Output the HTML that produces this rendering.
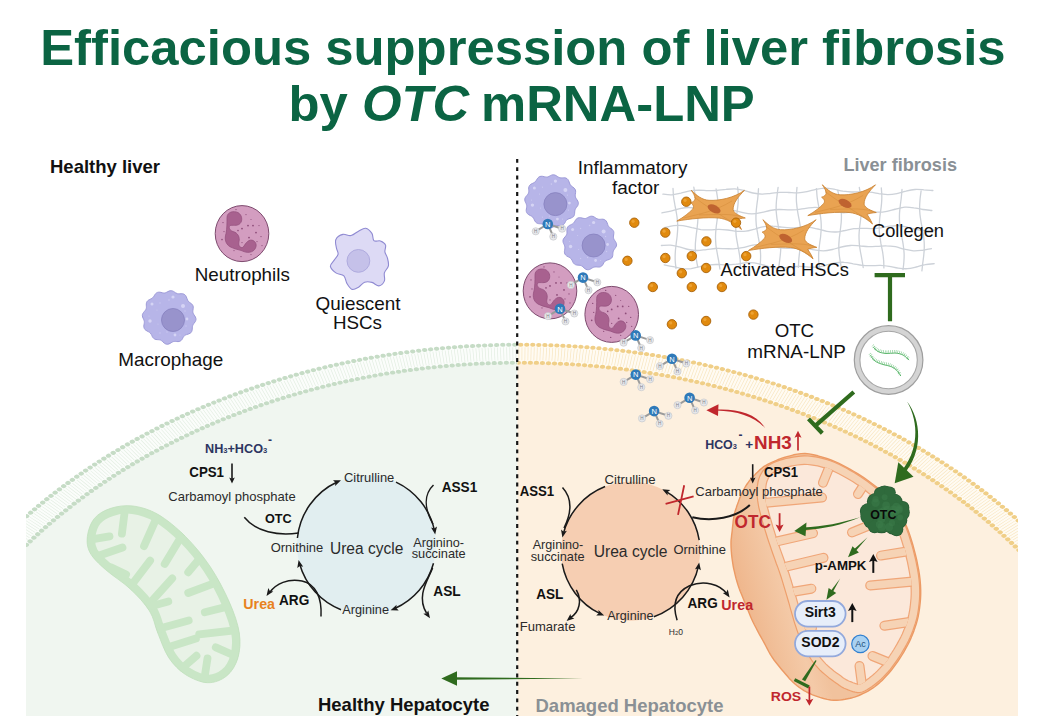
<!DOCTYPE html>
<html><head><meta charset="utf-8"><title>OTC mRNA-LNP</title>
<style>html,body{margin:0;padding:0;background:#fff}svg{display:block}</style></head>
<body>
<svg width="1051" height="724" viewBox="0 0 1051 724" font-family='"Liberation Sans", Arial, Helvetica, sans-serif'>
<defs>
<clipPath id="cl"><rect x="26" y="0" width="491.5" height="716"/></clipPath>
<clipPath id="cr"><rect x="517.5" y="0" width="500.5" height="716"/></clipPath>
<clipPath id="call"><rect x="26" y="0" width="992" height="716"/></clipPath>
</defs>
<rect width="1051" height="724" fill="#fff"/>
<text x="40.2" y="64.7" font-size="50.8" fill="#0b6443" font-weight="bold" text-anchor="start" textLength="965.4" lengthAdjust="spacingAndGlyphs">Efficacious suppression of liver fibrosis</text>
<text x="288.5" y="120.6" font-size="50.8" fill="#0b6443" font-weight="bold" text-anchor="start">by</text>
<text x="362.0" y="120.6" font-size="50.8" fill="#0b6443" font-weight="bold" text-anchor="start" font-style="italic">OTC</text>
<text x="481.0" y="120.6" font-size="50.8" fill="#0b6443" font-weight="bold" text-anchor="start">mRNA-LNP</text>
<g clip-path="url(#cl)"><g transform="translate(520.0,836.2) scale(1.3225,1)">
<circle r="491.5" fill="#fbfdfb"/>
<circle r="473.5" fill="#f0f6f0"/>
<circle r="482.5" fill="none" stroke="#e3eee2" stroke-width="13" stroke-dasharray="0.55 1.75"/>
<circle r="491.5" fill="none" stroke="#c6dcc6" stroke-width="4" stroke-linecap="round" stroke-dasharray="0.01 4.55"/>
<circle r="473.5" fill="none" stroke="#c6dcc6" stroke-width="4" stroke-linecap="round" stroke-dasharray="0.01 4.55"/>
</g></g>
<g clip-path="url(#cr)"><g transform="translate(520.0,836.2) scale(1.3225,1)">
<circle r="491.5" fill="#fffbf3"/>
<circle r="473.5" fill="#fdf0df"/>
<circle r="482.5" fill="none" stroke="#f8e6c0" stroke-width="13" stroke-dasharray="0.55 1.75"/>
<circle r="491.5" fill="none" stroke="#f0cf88" stroke-width="4" stroke-linecap="round" stroke-dasharray="0.01 4.55"/>
<circle r="473.5" fill="none" stroke="#f0cf88" stroke-width="4" stroke-linecap="round" stroke-dasharray="0.01 4.55"/>
</g></g>
<line x1="517.2" y1="158.9" x2="517.2" y2="716" stroke="#161616" stroke-width="2.2" stroke-dasharray="3.9 4.4"/>
<g fill="none" stroke="#cbd0d7" stroke-width="1.3" stroke-linecap="round" opacity="0.95">
<path d="M662.9,194.1 C664.4,194.3 668.9,195.0 671.9,194.8 C674.9,194.7 677.9,193.8 680.9,193.2 C683.9,192.5 686.9,191.5 689.9,190.9 C692.9,190.4 695.9,190.2 698.9,190.1 C701.9,190.1 704.9,190.5 707.9,190.6 C710.9,190.7 713.9,190.7 716.9,190.5 C719.9,190.3 722.9,189.6 725.9,189.4 C728.9,189.1 731.9,188.7 734.9,188.8 C737.9,189.0 740.9,189.7 743.9,190.4 C746.9,191.1 749.9,192.4 752.9,193.0 C755.9,193.6 758.9,194.1 761.9,194.2 C764.9,194.3 767.9,193.7 770.9,193.4 C773.9,193.1 776.9,192.6 779.9,192.4 C782.9,192.2 785.9,192.4 788.9,192.5 C791.9,192.6 794.9,193.0 797.9,192.8 C800.9,192.7 803.9,192.3 806.9,191.7 C809.9,191.2 812.9,190.0 815.9,189.4 C818.9,188.8 821.9,188.2 824.9,188.1 C827.9,188.1 830.9,188.6 833.9,189.1 C836.9,189.7 839.9,190.7 842.9,191.2 C845.9,191.6 848.9,191.9 851.9,192.0 C854.9,192.1 857.9,191.8 860.9,191.8 C863.9,191.8 866.9,191.8 869.9,192.1 C872.9,192.4 875.9,193.1 878.9,193.6 C881.9,194.0 884.9,194.6 887.9,194.6 C890.9,194.6 893.9,194.2 896.9,193.6 C899.9,193.0 902.9,191.7 905.9,191.1 C908.9,190.4 911.9,189.7 914.9,189.5 C917.9,189.3 920.9,189.6 923.9,189.8 C926.9,189.9 931.4,190.4 932.9,190.5"/>
<path d="M661.9,212.8 C663.4,212.5 667.9,211.9 670.9,211.2 C673.9,210.5 676.9,209.2 679.9,208.6 C682.9,208.0 685.9,207.5 688.9,207.5 C691.9,207.5 694.9,208.0 697.9,208.4 C700.9,208.8 703.9,209.4 706.9,209.6 C709.9,209.8 712.9,209.7 715.9,209.7 C718.9,209.6 721.9,209.3 724.9,209.4 C727.9,209.5 730.9,209.9 733.9,210.4 C736.9,211.0 739.9,212.1 742.9,212.6 C745.9,213.2 748.9,213.8 751.9,213.8 C754.9,213.8 757.9,213.2 760.9,212.6 C763.9,212.1 766.9,211.0 769.9,210.5 C772.9,210.0 775.9,209.6 778.9,209.5 C781.9,209.4 784.9,209.8 787.9,209.8 C790.9,209.9 793.9,209.9 796.9,209.7 C799.9,209.4 802.9,208.7 805.9,208.3 C808.9,208.0 811.9,207.4 814.9,207.4 C817.9,207.4 820.9,208.0 823.9,208.6 C826.9,209.2 829.9,210.5 832.9,211.1 C835.9,211.8 838.9,212.5 841.9,212.7 C844.9,212.9 847.9,212.5 850.9,212.3 C853.9,212.1 856.9,211.5 859.9,211.4 C862.9,211.3 865.9,211.5 868.9,211.6 C871.9,211.8 874.9,212.3 877.9,212.2 C880.9,212.2 883.9,211.9 886.9,211.3 C889.9,210.8 892.9,209.6 895.9,209.0 C898.9,208.3 901.9,207.4 904.9,207.2 C907.9,207.0 910.9,207.4 913.9,207.8 C916.9,208.1 919.9,209.1 922.9,209.5 C925.9,210.0 930.4,210.3 931.9,210.5"/>
<path d="M664.9,227.5 C666.4,227.2 670.9,225.9 673.9,225.6 C676.9,225.3 679.9,225.3 682.9,225.6 C685.9,226.0 688.9,227.0 691.9,227.7 C694.9,228.3 697.9,229.2 700.9,229.6 C703.9,229.9 706.9,229.8 709.9,229.8 C712.9,229.8 715.9,229.4 718.9,229.4 C721.9,229.4 724.9,229.7 727.9,230.0 C730.9,230.3 733.9,231.1 736.9,231.3 C739.9,231.5 742.9,231.6 745.9,231.2 C748.9,230.8 751.9,229.8 754.9,229.1 C757.9,228.3 760.9,227.2 763.9,226.7 C766.9,226.2 769.9,226.1 772.9,226.2 C775.9,226.2 778.9,226.9 781.9,227.2 C784.9,227.5 787.9,227.8 790.9,227.8 C793.9,227.9 796.9,227.5 799.9,227.4 C802.9,227.3 805.9,227.1 808.9,227.4 C811.9,227.6 814.9,228.4 817.9,229.0 C820.9,229.7 823.9,230.9 826.9,231.3 C829.9,231.8 832.9,232.1 835.9,232.0 C838.9,231.8 841.9,231.0 844.9,230.5 C847.9,229.9 850.9,229.1 853.9,228.7 C856.9,228.4 859.9,228.4 862.9,228.3 C865.9,228.3 868.9,228.7 871.9,228.6 C874.9,228.5 877.9,228.2 880.9,227.8 C883.9,227.4 886.9,226.5 889.9,226.1 C892.9,225.7 895.9,225.4 898.9,225.6 C901.9,225.8 904.9,226.6 907.9,227.3 C910.9,228.0 913.9,229.1 916.9,229.7 C919.9,230.3 922.9,230.6 925.9,230.7 C928.9,230.7 933.4,230.2 934.9,230.1"/>
<path d="M661.4,245.5 C662.9,245.5 667.4,245.0 670.4,245.2 C673.4,245.4 676.4,246.2 679.4,246.9 C682.4,247.6 685.4,248.9 688.4,249.5 C691.4,250.1 694.4,250.5 697.4,250.5 C700.4,250.5 703.4,249.9 706.4,249.6 C709.4,249.3 712.4,248.7 715.4,248.5 C718.4,248.3 721.4,248.5 724.4,248.6 C727.4,248.6 730.4,249.0 733.4,248.9 C736.4,248.7 739.4,248.3 742.4,247.7 C745.4,247.1 748.4,246.0 751.4,245.4 C754.4,244.9 757.4,244.3 760.4,244.3 C763.4,244.3 766.4,245.0 769.4,245.5 C772.4,246.1 775.4,247.1 778.4,247.6 C781.4,248.1 784.4,248.3 787.4,248.4 C790.4,248.5 793.4,248.1 796.4,248.1 C799.4,248.1 802.4,248.1 805.4,248.4 C808.4,248.7 811.4,249.5 814.4,249.9 C817.4,250.3 820.4,250.8 823.4,250.8 C826.4,250.7 829.4,250.1 832.4,249.5 C835.4,248.9 838.4,247.6 841.4,247.0 C844.4,246.3 847.4,245.7 850.4,245.5 C853.4,245.3 856.4,245.7 859.4,245.9 C862.4,246.1 865.4,246.6 868.4,246.7 C871.4,246.8 874.4,246.5 877.4,246.3 C880.4,246.2 883.4,245.7 886.4,245.8 C889.4,245.8 892.4,246.2 895.4,246.7 C898.4,247.3 901.4,248.5 904.4,249.2 C907.4,249.8 910.4,250.7 913.4,250.8 C916.4,251.0 919.4,250.6 922.4,250.3 C925.4,249.9 929.9,248.8 931.4,248.6"/>
<path d="M664.2,264.9 C665.7,265.2 670.2,266.1 673.2,266.7 C676.2,267.3 679.2,268.3 682.2,268.6 C685.2,268.9 688.2,268.9 691.2,268.6 C694.2,268.2 697.2,267.2 700.2,266.6 C703.2,265.9 706.2,265.1 709.2,264.8 C712.2,264.4 715.2,264.5 718.2,264.5 C721.2,264.6 724.2,265.0 727.2,264.9 C730.2,264.8 733.2,264.5 736.2,264.2 C739.2,263.8 742.2,263.1 745.2,262.8 C748.2,262.6 751.2,262.5 754.2,262.9 C757.2,263.3 760.2,264.3 763.2,265.0 C766.2,265.8 769.2,266.9 772.2,267.4 C775.2,267.9 778.2,268.0 781.2,267.9 C784.2,267.8 787.2,267.2 790.2,266.9 C793.2,266.7 796.2,266.4 799.2,266.4 C802.2,266.4 805.2,266.9 808.2,267.0 C811.2,267.0 814.2,267.3 817.2,267.0 C820.2,266.7 823.2,265.9 826.2,265.2 C829.2,264.5 832.2,263.4 835.2,262.9 C838.2,262.4 841.2,262.1 844.2,262.3 C847.2,262.4 850.2,263.2 853.2,263.8 C856.2,264.3 859.2,265.1 862.2,265.4 C865.2,265.7 868.2,265.7 871.2,265.7 C874.2,265.7 877.2,265.3 880.2,265.4 C883.2,265.6 886.2,265.9 889.2,266.3 C892.2,266.8 895.2,267.7 898.2,268.1 C901.2,268.5 904.2,268.9 907.2,268.7 C910.2,268.5 913.2,267.7 916.2,267.0 C919.2,266.3 922.2,265.1 925.2,264.6 C928.2,264.0 932.7,263.8 934.2,263.7"/>
<path d="M673.0,188.5 C673.1,189.8 673.3,193.8 673.5,196.5 C673.8,199.1 674.4,201.8 674.8,204.5 C675.3,207.1 675.9,209.8 676.3,212.5 C676.8,215.1 677.2,217.8 677.4,220.5 C677.7,223.1 677.8,225.8 677.7,228.5 C677.6,231.1 677.4,233.8 677.1,236.5 C676.8,239.1 676.4,241.8 676.1,244.5 C675.8,247.1 675.4,249.8 675.3,252.5 C675.1,255.1 675.1,257.8 675.2,260.5 C675.3,263.1 675.9,267.1 676.0,268.5"/>
<path d="M693.8,187.2 C694.1,188.6 694.7,192.6 695.2,195.2 C695.6,197.9 696.2,200.6 696.7,203.2 C697.1,205.9 697.5,208.6 697.7,211.2 C697.9,213.9 698.0,216.6 697.9,219.2 C697.8,221.9 697.5,224.6 697.2,227.2 C697.0,229.9 696.5,232.6 696.2,235.2 C695.9,237.9 695.6,240.6 695.4,243.2 C695.3,245.9 695.3,248.6 695.4,251.2 C695.6,253.9 695.9,256.6 696.3,259.2 C696.7,261.9 697.5,265.9 697.8,267.2"/>
<path d="M716.1,189.0 C716.3,190.4 717.1,194.4 717.4,197.0 C717.8,199.7 718.0,202.4 718.1,205.0 C718.2,207.7 718.1,210.4 717.9,213.0 C717.7,215.7 717.3,218.4 717.0,221.0 C716.6,223.7 716.2,226.4 716.0,229.0 C715.7,231.7 715.5,234.4 715.5,237.0 C715.5,239.7 715.7,242.4 715.9,245.0 C716.2,247.7 716.7,250.4 717.2,253.0 C717.6,255.7 718.2,258.4 718.7,261.0 C719.1,263.7 719.7,267.7 719.9,269.0"/>
<path d="M737.6,187.1 C737.8,188.5 738.2,192.5 738.3,195.1 C738.4,197.8 738.3,200.5 738.1,203.1 C737.9,205.8 737.5,208.5 737.2,211.1 C736.8,213.8 736.4,216.5 736.2,219.1 C735.9,221.8 735.7,224.5 735.7,227.1 C735.7,229.8 735.9,232.5 736.1,235.1 C736.4,237.8 736.9,240.5 737.4,243.1 C737.8,245.8 738.4,248.5 738.9,251.1 C739.3,253.8 739.8,256.5 740.1,259.1 C740.3,261.8 740.3,265.8 740.4,267.1"/>
<path d="M758.5,188.7 C758.4,190.1 758.2,194.1 757.9,196.7 C757.7,199.4 757.2,202.1 756.9,204.7 C756.6,207.4 756.2,210.1 756.1,212.7 C755.9,215.4 755.9,218.1 756.0,220.7 C756.1,223.4 756.4,226.1 756.8,228.7 C757.2,231.4 757.8,234.1 758.2,236.7 C758.7,239.4 759.3,242.1 759.7,244.7 C760.1,247.4 760.4,250.1 760.5,252.7 C760.7,255.4 760.6,258.1 760.5,260.7 C760.3,263.4 759.8,267.4 759.7,268.7"/>
<path d="M778.1,187.3 C777.9,188.6 777.4,192.6 777.1,195.3 C776.7,197.9 776.4,200.6 776.3,203.3 C776.1,205.9 776.1,208.6 776.2,211.3 C776.4,213.9 776.7,216.6 777.1,219.3 C777.5,221.9 778.1,224.6 778.5,227.3 C779.0,229.9 779.6,232.6 780.0,235.3 C780.3,237.9 780.6,240.6 780.8,243.3 C780.9,245.9 780.8,248.6 780.6,251.3 C780.5,253.9 780.1,256.6 779.8,259.3 C779.5,261.9 778.9,265.9 778.8,267.3"/>
<path d="M797.0,187.4 C796.9,188.7 796.4,192.7 796.4,195.4 C796.3,198.0 796.3,200.7 796.6,203.4 C796.8,206.0 797.2,208.7 797.6,211.4 C798.0,214.0 798.6,216.7 799.1,219.4 C799.6,222.0 800.1,224.7 800.4,227.4 C800.7,230.0 801.0,232.7 801.0,235.4 C801.1,238.0 800.9,240.7 800.7,243.4 C800.5,246.0 800.1,248.7 799.7,251.4 C799.4,254.0 799.0,256.7 798.8,259.4 C798.6,262.0 798.5,266.0 798.4,267.4"/>
<path d="M816.5,188.7 C816.6,190.0 816.8,194.0 817.1,196.7 C817.4,199.4 817.9,202.0 818.4,204.7 C818.9,207.4 819.5,210.0 819.9,212.7 C820.3,215.4 820.8,218.0 821.0,220.7 C821.2,223.4 821.3,226.0 821.2,228.7 C821.1,231.4 820.8,234.0 820.6,236.7 C820.3,239.4 819.8,242.0 819.5,244.7 C819.2,247.4 818.9,250.0 818.7,252.7 C818.6,255.4 818.6,258.0 818.7,260.7 C818.8,263.4 819.4,267.4 819.6,268.7"/>
<path d="M837.8,190.3 C838.1,191.6 838.8,195.6 839.3,198.3 C839.8,201.0 840.3,203.6 840.7,206.3 C841.0,209.0 841.3,211.6 841.4,214.3 C841.5,217.0 841.4,219.6 841.2,222.3 C841.0,225.0 840.6,227.6 840.3,230.3 C840.0,233.0 839.6,235.6 839.3,238.3 C839.1,241.0 838.8,243.6 838.8,246.3 C838.8,249.0 838.9,251.6 839.2,254.3 C839.4,257.0 839.9,259.6 840.4,262.3 C840.8,265.0 841.6,269.0 841.9,270.3"/>
<path d="M859.3,187.5 C859.5,188.8 860.4,192.8 860.7,195.5 C861.1,198.2 861.4,200.8 861.6,203.5 C861.7,206.2 861.6,208.8 861.5,211.5 C861.3,214.2 860.9,216.8 860.6,219.5 C860.3,222.2 859.9,224.8 859.6,227.5 C859.3,230.2 859.1,232.8 859.0,235.5 C859.0,238.2 859.1,240.8 859.3,243.5 C859.5,246.2 860.0,248.8 860.4,251.5 C860.9,254.2 861.5,256.8 861.9,259.5 C862.4,262.2 863.0,266.2 863.2,267.5"/>
<path d="M881.3,187.9 C881.4,189.2 881.8,193.2 881.8,195.9 C881.9,198.6 881.7,201.2 881.5,203.9 C881.3,206.6 880.9,209.2 880.5,211.9 C880.2,214.6 879.8,217.2 879.6,219.9 C879.4,222.6 879.2,225.2 879.2,227.9 C879.2,230.6 879.4,233.2 879.8,235.9 C880.1,238.6 880.6,241.2 881.0,243.9 C881.5,246.6 882.1,249.2 882.6,251.9 C883.0,254.6 883.4,257.2 883.6,259.9 C883.9,262.6 883.8,266.6 883.9,267.9"/>
<path d="M902.0,189.5 C901.9,190.8 901.6,194.8 901.3,197.5 C901.0,200.2 900.6,202.8 900.3,205.5 C900.0,208.2 899.6,210.8 899.5,213.5 C899.4,216.2 899.4,218.8 899.5,221.5 C899.7,224.2 900.1,226.8 900.5,229.5 C900.9,232.2 901.4,234.8 901.9,237.5 C902.4,240.2 903.0,242.8 903.3,245.5 C903.7,248.2 904.0,250.8 904.1,253.5 C904.2,256.2 904.1,258.8 903.9,261.5 C903.7,264.2 903.2,268.2 903.0,269.5"/>
<path d="M921.1,190.8 C920.9,192.1 920.4,196.1 920.1,198.8 C919.9,201.5 919.6,204.1 919.6,206.8 C919.6,209.5 919.7,212.1 920.0,214.8 C920.3,217.5 920.8,220.1 921.2,222.8 C921.7,225.5 922.3,228.1 922.7,230.8 C923.2,233.5 923.7,236.1 923.9,238.8 C924.2,241.5 924.3,244.1 924.3,246.8 C924.3,249.5 924.1,252.1 923.8,254.8 C923.6,257.5 923.1,260.1 922.8,262.8 C922.5,265.5 922.1,269.5 921.9,270.8"/>
</g>
<g transform="translate(242.0,233.6) scale(1.0)">
<ellipse rx="26.8" ry="28" fill="#d39dc0" stroke="#7d4a6e" stroke-width="1"/>
<path d="M-15,-16 C-15,-22 -8,-23 -4,-21 C0,-19 1,-13 -2,-10 C-5,-7 -10,-9 -12,-8 C-14,-6 -12,-3 -9,-2 C-4,-1 -2,4 -3,8 C-4,12 -2,14 0,14 C2,14 3,9 7,7 C11,5 15,9 14,13 C13,18 7,20 2,18 C-2,16 -6,16 -10,14 C-16,12 -18,6 -16,0 C-15,-5 -15,-10 -15,-16Z" fill="#a8618f" stroke="#96527f" stroke-width="0.8"/>
<circle cx="-6" cy="-24" r="0.7" fill="#8e4d79"/>
<circle cx="4" cy="-19" r="0.6" fill="#8e4d79"/>
<circle cx="9" cy="-14" r="0.5" fill="#8e4d79"/>
<circle cx="6" cy="-8" r="0.9" fill="#8e4d79"/>
<circle cx="11" cy="-8" r="0.9" fill="#8e4d79"/>
<circle cx="17" cy="-8" r="0.6" fill="#8e4d79"/>
<circle cx="0" cy="-5" r="0.9" fill="#8e4d79"/>
<circle cx="-4" cy="-3" r="0.8" fill="#8e4d79"/>
<circle cx="14" cy="-1" r="0.9" fill="#8e4d79"/>
<circle cx="7" cy="4" r="0.9" fill="#8e4d79"/>
<circle cx="19" cy="3" r="0.7" fill="#8e4d79"/>
<circle cx="15" cy="8" r="0.6" fill="#8e4d79"/>
<circle cx="20" cy="12" r="0.6" fill="#8e4d79"/>
<circle cx="-19" cy="-11" r="0.7" fill="#8e4d79"/>
<circle cx="-18" cy="-2" r="0.6" fill="#8e4d79"/>
<circle cx="-20" cy="6" r="0.8" fill="#8e4d79"/>
<circle cx="-8" cy="17" r="0.6" fill="#8e4d79"/>
<circle cx="-1" cy="23" r="0.7" fill="#8e4d79"/>
<circle cx="9" cy="21" r="0.6" fill="#8e4d79"/>
<circle cx="0" cy="9" r="0.6" fill="#8e4d79"/>
</g>
<g transform="translate(169.0,317.0)">
<path d="M26.4,0.0 C26.8,0.8 27.0,1.6 27.0,2.4 C27.0,3.1 26.6,3.9 26.3,4.6 C25.9,5.3 25.2,6.0 24.8,6.6 C24.4,7.3 23.9,7.9 23.7,8.6 C23.4,9.3 23.4,10.1 23.3,10.9 C23.2,11.7 23.3,12.6 23.1,13.3 C22.9,14.1 22.6,14.9 22.1,15.5 C21.6,16.0 20.7,16.4 20.0,16.8 C19.2,17.1 18.3,17.3 17.6,17.6 C16.8,17.9 16.1,18.1 15.6,18.6 C15.0,19.0 14.7,19.7 14.2,20.3 C13.8,21.0 13.5,21.9 13.0,22.5 C12.5,23.1 11.9,23.8 11.2,24.1 C10.6,24.5 9.7,24.6 9.0,24.6 C8.2,24.7 7.3,24.4 6.6,24.4 C5.8,24.5 5.1,24.4 4.3,24.6 C3.6,24.8 3.0,25.3 2.2,25.7 C1.5,26.1 0.8,26.7 0.0,26.9 C-0.8,27.2 -1.6,27.4 -2.4,27.2 C-3.2,27.1 -3.9,26.7 -4.6,26.2 C-5.3,25.7 -5.9,25.0 -6.6,24.4 C-7.2,23.9 -7.7,23.4 -8.4,23.1 C-9.1,22.8 -9.8,22.8 -10.6,22.7 C-11.3,22.6 -12.2,22.7 -13.0,22.5 C-13.8,22.3 -14.5,22.1 -15.1,21.6 C-15.7,21.2 -16.2,20.4 -16.6,19.8 C-17.0,19.1 -17.2,18.2 -17.6,17.6 C-17.9,16.9 -18.3,16.3 -18.8,15.8 C-19.3,15.3 -20.1,15.0 -20.8,14.6 C-21.5,14.1 -22.4,13.8 -23.1,13.3 C-23.8,12.8 -24.4,12.2 -24.7,11.5 C-25.1,10.8 -25.1,10.0 -25.2,9.2 C-25.2,8.3 -24.9,7.4 -24.8,6.6 C-24.7,5.8 -24.6,5.1 -24.7,4.4 C-24.8,3.6 -25.2,3.0 -25.4,2.2 C-25.7,1.5 -26.2,0.8 -26.4,0.0 C-26.6,-0.8 -26.7,-1.6 -26.6,-2.3 C-26.4,-3.1 -26.0,-3.8 -25.5,-4.5 C-25.0,-5.2 -24.3,-5.8 -23.9,-6.4 C-23.4,-7.0 -23.0,-7.6 -22.8,-8.3 C-22.5,-9.0 -22.6,-9.7 -22.6,-10.5 C-22.6,-11.3 -22.8,-12.3 -22.7,-13.1 C-22.6,-13.9 -22.4,-14.8 -22.0,-15.4 C-21.6,-16.1 -20.9,-16.6 -20.3,-17.0 C-19.6,-17.4 -18.7,-17.7 -18.1,-18.1 C-17.4,-18.4 -16.7,-18.8 -16.2,-19.3 C-15.6,-19.8 -15.3,-20.5 -14.8,-21.2 C-14.4,-21.8 -14.0,-22.7 -13.4,-23.3 C-12.9,-23.8 -12.2,-24.4 -11.5,-24.6 C-10.8,-24.9 -9.9,-24.8 -9.0,-24.8 C-8.2,-24.7 -7.3,-24.3 -6.5,-24.2 C-5.7,-24.1 -5.0,-23.9 -4.2,-24.0 C-3.5,-24.1 -2.9,-24.5 -2.2,-24.8 C-1.5,-25.1 -0.7,-25.7 -0.0,-25.9 C0.7,-26.2 1.6,-26.4 2.3,-26.3 C3.1,-26.3 3.8,-25.9 4.5,-25.6 C5.2,-25.2 5.8,-24.6 6.5,-24.2 C7.1,-23.8 7.8,-23.5 8.5,-23.3 C9.2,-23.1 10.0,-23.2 10.8,-23.2 C11.6,-23.2 12.6,-23.4 13.4,-23.3 C14.2,-23.1 15.1,-22.9 15.7,-22.4 C16.3,-22.0 16.8,-21.2 17.2,-20.5 C17.6,-19.8 17.7,-18.8 18.1,-18.1 C18.4,-17.3 18.6,-16.6 19.1,-16.0 C19.5,-15.4 20.1,-15.0 20.7,-14.5 C21.3,-14.0 22.1,-13.6 22.7,-13.1 C23.2,-12.5 23.7,-11.9 24.0,-11.2 C24.3,-10.5 24.3,-9.6 24.2,-8.8 C24.2,-8.0 23.9,-7.2 23.9,-6.4 C23.8,-5.6 23.8,-4.9 24.0,-4.2 C24.1,-3.5 24.6,-2.9 25.0,-2.2 C25.4,-1.5 26.1,-0.8 26.4,0.0Z" fill="#b7b5e8" stroke="#9d9ad8" stroke-width="1"/>
<circle cx="4" cy="3" r="11.5" fill="#9893cc" stroke="#8682bf" stroke-width="0.8"/>
<circle cx="4" cy="-20" r="1.6" fill="#d8d7f5" opacity="0.9"/>
<circle cx="-17" cy="-13" r="1.5" fill="#d8d7f5" opacity="0.9"/>
<circle cx="14" cy="-11" r="2" fill="#d8d7f5" opacity="0.9"/>
<circle cx="18" cy="2" r="1.4" fill="#d8d7f5" opacity="0.9"/>
<circle cx="-19" cy="4" r="1.7" fill="#d8d7f5" opacity="0.9"/>
<circle cx="6" cy="18" r="1.4" fill="#d8d7f5" opacity="0.9"/>
<circle cx="-9" cy="-14" r="0.7" fill="#d8d7f5" opacity="0.6"/>
<circle cx="0" cy="-17" r="0.8" fill="#d8d7f5" opacity="0.6"/>
<circle cx="-12" cy="-7" r="0.6" fill="#d8d7f5" opacity="0.6"/>
<circle cx="16" cy="-6" r="0.7" fill="#d8d7f5" opacity="0.6"/>
<circle cx="17" cy="9" r="0.7" fill="#d8d7f5" opacity="0.6"/>
<circle cx="-11" cy="7" r="0.6" fill="#d8d7f5" opacity="0.6"/>
<circle cx="-9" cy="16" r="0.7" fill="#d8d7f5" opacity="0.6"/>
<circle cx="-2" cy="15" r="0.7" fill="#d8d7f5" opacity="0.6"/>
<circle cx="11" cy="18" r="0.6" fill="#d8d7f5" opacity="0.6"/>
<circle cx="-20" cy="-1" r="0.6" fill="#d8d7f5" opacity="0.6"/>
</g>
<g transform="translate(359.9,259.9)">
<path d="M5.7,-31.6 C3.5,-32.0 1.4,-30.2 -1.0,-29.0 C-3.4,-27.8 -6.1,-25.0 -8.8,-24.4 C-11.5,-23.8 -14.5,-26.1 -17.0,-25.5 C-19.5,-24.9 -22.9,-22.8 -24.0,-20.5 C-25.1,-18.2 -23.9,-14.5 -23.5,-12.0 C-23.1,-9.5 -21.5,-7.7 -21.8,-5.7 C-22.1,-3.7 -24.2,-2.0 -25.5,0.0 C-26.8,2.0 -29.8,4.3 -29.5,6.5 C-29.2,8.7 -26.2,11.4 -24.0,13.0 C-21.8,14.6 -17.8,14.2 -16.0,16.0 C-14.2,17.8 -14.4,21.2 -13.0,23.5 C-11.6,25.8 -9.8,28.9 -7.8,29.5 C-5.8,30.1 -3.1,28.2 -1.0,27.0 C1.1,25.8 2.5,23.1 4.7,22.3 C6.9,21.6 9.6,21.9 12.0,22.5 C14.4,23.1 16.9,26.2 19.0,26.0 C21.1,25.8 23.6,23.2 24.5,21.0 C25.4,18.8 23.8,15.5 24.5,13.0 C25.2,10.5 28.0,8.5 28.5,6.0 C29.0,3.5 28.1,0.3 27.5,-2.0 C26.9,-4.3 25.3,-5.8 25.0,-8.0 C24.7,-10.2 26.4,-13.2 25.6,-15.0 C24.9,-16.8 22.4,-18.3 20.5,-19.0 C18.6,-19.7 15.4,-17.9 14.0,-19.2 C12.6,-20.4 13.4,-24.4 12.0,-26.5 C10.6,-28.6 7.9,-31.2 5.7,-31.6Z" fill="#dddaf5" stroke="#8f8ad2" stroke-width="1.1"/>
<circle cx="-1.5" cy="1" r="11.4" fill="#c5c1e9" stroke="#aba7dd" stroke-width="0.9"/>
</g>
<g transform="translate(672.0,358.8)">
<path d="M0,0 L-12.1,7.3 M0,0 L5.5,12.6 M0,0 L14.3,4.7" stroke="#9b9b9b" stroke-width="2" fill="none"/>
<circle cx="-12.1" cy="7.3" r="3.6" fill="#e6e7ea" stroke="#c2c4c8" stroke-width="0.6"/>
<text x="-12.1" y="9.0" font-size="4.6" fill="#7d8188" text-anchor="middle">H</text>
<circle cx="5.5" cy="12.6" r="3.6" fill="#e6e7ea" stroke="#c2c4c8" stroke-width="0.6"/>
<text x="5.5" y="14.299999999999999" font-size="4.6" fill="#7d8188" text-anchor="middle">H</text>
<circle cx="14.3" cy="4.7" r="3.6" fill="#e6e7ea" stroke="#c2c4c8" stroke-width="0.6"/>
<text x="14.3" y="6.4" font-size="4.6" fill="#7d8188" text-anchor="middle">H</text>
<circle r="5.3" fill="#2f7ab9"/>
<text x="0" y="2.7" font-size="7.5" fill="#fff" text-anchor="middle">N</text>
</g>
<g transform="translate(635.8,374.6)">
<path d="M0,0 L-12.1,7.3 M0,0 L5.5,12.6 M0,0 L14.3,4.7" stroke="#9b9b9b" stroke-width="2" fill="none"/>
<circle cx="-12.1" cy="7.3" r="3.6" fill="#e6e7ea" stroke="#c2c4c8" stroke-width="0.6"/>
<text x="-12.1" y="9.0" font-size="4.6" fill="#7d8188" text-anchor="middle">H</text>
<circle cx="5.5" cy="12.6" r="3.6" fill="#e6e7ea" stroke="#c2c4c8" stroke-width="0.6"/>
<text x="5.5" y="14.299999999999999" font-size="4.6" fill="#7d8188" text-anchor="middle">H</text>
<circle cx="14.3" cy="4.7" r="3.6" fill="#e6e7ea" stroke="#c2c4c8" stroke-width="0.6"/>
<text x="14.3" y="6.4" font-size="4.6" fill="#7d8188" text-anchor="middle">H</text>
<circle r="5.3" fill="#2f7ab9"/>
<text x="0" y="2.7" font-size="7.5" fill="#fff" text-anchor="middle">N</text>
</g>
<g transform="translate(689.6,397.8)">
<path d="M0,0 L-12.1,7.3 M0,0 L5.5,12.6 M0,0 L14.3,4.7" stroke="#9b9b9b" stroke-width="2" fill="none"/>
<circle cx="-12.1" cy="7.3" r="3.6" fill="#e6e7ea" stroke="#c2c4c8" stroke-width="0.6"/>
<text x="-12.1" y="9.0" font-size="4.6" fill="#7d8188" text-anchor="middle">H</text>
<circle cx="5.5" cy="12.6" r="3.6" fill="#e6e7ea" stroke="#c2c4c8" stroke-width="0.6"/>
<text x="5.5" y="14.299999999999999" font-size="4.6" fill="#7d8188" text-anchor="middle">H</text>
<circle cx="14.3" cy="4.7" r="3.6" fill="#e6e7ea" stroke="#c2c4c8" stroke-width="0.6"/>
<text x="14.3" y="6.4" font-size="4.6" fill="#7d8188" text-anchor="middle">H</text>
<circle r="5.3" fill="#2f7ab9"/>
<text x="0" y="2.7" font-size="7.5" fill="#fff" text-anchor="middle">N</text>
</g>
<g transform="translate(654.1,411.1)">
<path d="M0,0 L-12.1,7.3 M0,0 L5.5,12.6 M0,0 L14.3,4.7" stroke="#9b9b9b" stroke-width="2" fill="none"/>
<circle cx="-12.1" cy="7.3" r="3.6" fill="#e6e7ea" stroke="#c2c4c8" stroke-width="0.6"/>
<text x="-12.1" y="9.0" font-size="4.6" fill="#7d8188" text-anchor="middle">H</text>
<circle cx="5.5" cy="12.6" r="3.6" fill="#e6e7ea" stroke="#c2c4c8" stroke-width="0.6"/>
<text x="5.5" y="14.299999999999999" font-size="4.6" fill="#7d8188" text-anchor="middle">H</text>
<circle cx="14.3" cy="4.7" r="3.6" fill="#e6e7ea" stroke="#c2c4c8" stroke-width="0.6"/>
<text x="14.3" y="6.4" font-size="4.6" fill="#7d8188" text-anchor="middle">H</text>
<circle r="5.3" fill="#2f7ab9"/>
<text x="0" y="2.7" font-size="7.5" fill="#fff" text-anchor="middle">N</text>
</g>
<g transform="translate(714.1,208.9)">
<path d="M-22.8,-18.6 C-17,-13 -12,-9 -5,-8.6 C5,-8 20,-11 30.4,-18.6 C24,-12 19,-6 19,0.8 C20,5 26,7 31.2,9.1 C27,9.5 24,10 22,11 C24,14 26,17 27.4,20.6 C20,14 12,10 5,9.2 C-8,8 -24,10 -37.3,12.2 C-30,8 -25,4 -21.3,0 C-20,-2 -20.5,-4 -23.5,-6.2 C-21,-7 -19.5,-8 -19,-10 C-19,-13 -21,-16 -22.8,-18.6Z" fill="#e9a352" stroke="#c9802e" stroke-width="0.8" stroke-linejoin="round"/>
<path d="M-20,-12 C-10,-4 0,2 27,19 M-30,9 C-15,5 0,3 18,-8 M-15,6 C0,6 15,4 28,8" fill="none" stroke="#c9802e" stroke-width="0.5" opacity="0.7"/>
<ellipse rx="7" ry="3.8" transform="rotate(27)" fill="#bf6330"/>
</g>
<g transform="translate(785.7,238.3)">
<path d="M-22.8,-18.6 C-17,-13 -12,-9 -5,-8.6 C5,-8 20,-11 30.4,-18.6 C24,-12 19,-6 19,0.8 C20,5 26,7 31.2,9.1 C27,9.5 24,10 22,11 C24,14 26,17 27.4,20.6 C20,14 12,10 5,9.2 C-8,8 -24,10 -37.3,12.2 C-30,8 -25,4 -21.3,0 C-20,-2 -20.5,-4 -23.5,-6.2 C-21,-7 -19.5,-8 -19,-10 C-19,-13 -21,-16 -22.8,-18.6Z" fill="#e9a352" stroke="#c9802e" stroke-width="0.8" stroke-linejoin="round"/>
<path d="M-20,-12 C-10,-4 0,2 27,19 M-30,9 C-15,5 0,3 18,-8 M-15,6 C0,6 15,4 28,8" fill="none" stroke="#c9802e" stroke-width="0.5" opacity="0.7"/>
<ellipse rx="7" ry="3.8" transform="rotate(27)" fill="#bf6330"/>
</g>
<g transform="translate(845.1,203.4)">
<path d="M-22.8,-18.6 C-17,-13 -12,-9 -5,-8.6 C5,-8 20,-11 30.4,-18.6 C24,-12 19,-6 19,0.8 C20,5 26,7 31.2,9.1 C27,9.5 24,10 22,11 C24,14 26,17 27.4,20.6 C20,14 12,10 5,9.2 C-8,8 -24,10 -37.3,12.2 C-30,8 -25,4 -21.3,0 C-20,-2 -20.5,-4 -23.5,-6.2 C-21,-7 -19.5,-8 -19,-10 C-19,-13 -21,-16 -22.8,-18.6Z" fill="#e9a352" stroke="#c9802e" stroke-width="0.8" stroke-linejoin="round"/>
<path d="M-20,-12 C-10,-4 0,2 27,19 M-30,9 C-15,5 0,3 18,-8 M-15,6 C0,6 15,4 28,8" fill="none" stroke="#c9802e" stroke-width="0.5" opacity="0.7"/>
<ellipse rx="7" ry="3.8" transform="rotate(27)" fill="#bf6330"/>
</g>
<circle cx="686.3" cy="201.7" r="4.7" fill="#e18a0e" stroke="#a8620a" stroke-width="0.9"/>
<circle cx="685.1" cy="200.3" r="1.6" fill="#f0a83c" opacity="0.8"/>
<circle cx="634.3" cy="222.7" r="4.7" fill="#e18a0e" stroke="#a8620a" stroke-width="0.9"/>
<circle cx="633.1" cy="221.3" r="1.6" fill="#f0a83c" opacity="0.8"/>
<circle cx="665.3" cy="232.6" r="4.7" fill="#e18a0e" stroke="#a8620a" stroke-width="0.9"/>
<circle cx="664.1" cy="231.2" r="1.6" fill="#f0a83c" opacity="0.8"/>
<circle cx="736.0" cy="222.7" r="4.7" fill="#e18a0e" stroke="#a8620a" stroke-width="0.9"/>
<circle cx="734.8" cy="221.3" r="1.6" fill="#f0a83c" opacity="0.8"/>
<circle cx="706.4" cy="241.4" r="4.7" fill="#e18a0e" stroke="#a8620a" stroke-width="0.9"/>
<circle cx="705.2" cy="240.0" r="1.6" fill="#f0a83c" opacity="0.8"/>
<circle cx="627.4" cy="260.8" r="4.7" fill="#e18a0e" stroke="#a8620a" stroke-width="0.9"/>
<circle cx="626.2" cy="259.4" r="1.6" fill="#f0a83c" opacity="0.8"/>
<circle cx="665.3" cy="258.0" r="4.7" fill="#e18a0e" stroke="#a8620a" stroke-width="0.9"/>
<circle cx="664.1" cy="256.6" r="1.6" fill="#f0a83c" opacity="0.8"/>
<circle cx="691.8" cy="256.1" r="4.7" fill="#e18a0e" stroke="#a8620a" stroke-width="0.9"/>
<circle cx="690.6" cy="254.7" r="1.6" fill="#f0a83c" opacity="0.8"/>
<circle cx="746.2" cy="256.1" r="4.7" fill="#e18a0e" stroke="#a8620a" stroke-width="0.9"/>
<circle cx="745.0" cy="254.7" r="1.6" fill="#f0a83c" opacity="0.8"/>
<circle cx="706.1" cy="268.0" r="4.7" fill="#e18a0e" stroke="#a8620a" stroke-width="0.9"/>
<circle cx="704.9" cy="266.6" r="1.6" fill="#f0a83c" opacity="0.8"/>
<circle cx="681.8" cy="273.2" r="4.7" fill="#e18a0e" stroke="#a8620a" stroke-width="0.9"/>
<circle cx="680.6" cy="271.8" r="1.6" fill="#f0a83c" opacity="0.8"/>
<circle cx="652.8" cy="287.0" r="4.7" fill="#e18a0e" stroke="#a8620a" stroke-width="0.9"/>
<circle cx="651.6" cy="285.6" r="1.6" fill="#f0a83c" opacity="0.8"/>
<circle cx="691.8" cy="287.0" r="4.7" fill="#e18a0e" stroke="#a8620a" stroke-width="0.9"/>
<circle cx="690.6" cy="285.6" r="1.6" fill="#f0a83c" opacity="0.8"/>
<circle cx="721.9" cy="287.0" r="4.7" fill="#e18a0e" stroke="#a8620a" stroke-width="0.9"/>
<circle cx="720.7" cy="285.6" r="1.6" fill="#f0a83c" opacity="0.8"/>
<circle cx="624.4" cy="297.0" r="4.7" fill="#e18a0e" stroke="#a8620a" stroke-width="0.9"/>
<circle cx="623.2" cy="295.6" r="1.6" fill="#f0a83c" opacity="0.8"/>
<circle cx="671.9" cy="324.3" r="4.7" fill="#e18a0e" stroke="#a8620a" stroke-width="0.9"/>
<circle cx="670.7" cy="322.9" r="1.6" fill="#f0a83c" opacity="0.8"/>
<circle cx="706.1" cy="321.0" r="4.7" fill="#e18a0e" stroke="#a8620a" stroke-width="0.9"/>
<circle cx="704.9" cy="319.6" r="1.6" fill="#f0a83c" opacity="0.8"/>
<circle cx="753.4" cy="314.6" r="4.7" fill="#e18a0e" stroke="#a8620a" stroke-width="0.9"/>
<circle cx="752.2" cy="313.2" r="1.6" fill="#f0a83c" opacity="0.8"/>
<g transform="translate(551.4,201.1)">
<path d="M26.4,0.0 C26.8,0.8 27.0,1.6 27.0,2.4 C27.0,3.1 26.6,3.9 26.3,4.6 C25.9,5.3 25.2,6.0 24.8,6.6 C24.4,7.3 23.9,7.9 23.7,8.6 C23.4,9.3 23.4,10.1 23.3,10.9 C23.2,11.7 23.3,12.6 23.1,13.3 C22.9,14.1 22.6,14.9 22.1,15.5 C21.6,16.0 20.7,16.4 20.0,16.8 C19.2,17.1 18.3,17.3 17.6,17.6 C16.8,17.9 16.1,18.1 15.6,18.6 C15.0,19.0 14.7,19.7 14.2,20.3 C13.8,21.0 13.5,21.9 13.0,22.5 C12.5,23.1 11.9,23.8 11.2,24.1 C10.6,24.5 9.7,24.6 9.0,24.6 C8.2,24.7 7.3,24.4 6.6,24.4 C5.8,24.5 5.1,24.4 4.3,24.6 C3.6,24.8 3.0,25.3 2.2,25.7 C1.5,26.1 0.8,26.7 0.0,26.9 C-0.8,27.2 -1.6,27.4 -2.4,27.2 C-3.2,27.1 -3.9,26.7 -4.6,26.2 C-5.3,25.7 -5.9,25.0 -6.6,24.4 C-7.2,23.9 -7.7,23.4 -8.4,23.1 C-9.1,22.8 -9.8,22.8 -10.6,22.7 C-11.3,22.6 -12.2,22.7 -13.0,22.5 C-13.8,22.3 -14.5,22.1 -15.1,21.6 C-15.7,21.2 -16.2,20.4 -16.6,19.8 C-17.0,19.1 -17.2,18.2 -17.6,17.6 C-17.9,16.9 -18.3,16.3 -18.8,15.8 C-19.3,15.3 -20.1,15.0 -20.8,14.6 C-21.5,14.1 -22.4,13.8 -23.1,13.3 C-23.8,12.8 -24.4,12.2 -24.7,11.5 C-25.1,10.8 -25.1,10.0 -25.2,9.2 C-25.2,8.3 -24.9,7.4 -24.8,6.6 C-24.7,5.8 -24.6,5.1 -24.7,4.4 C-24.8,3.6 -25.2,3.0 -25.4,2.2 C-25.7,1.5 -26.2,0.8 -26.4,0.0 C-26.6,-0.8 -26.7,-1.6 -26.6,-2.3 C-26.4,-3.1 -26.0,-3.8 -25.5,-4.5 C-25.0,-5.2 -24.3,-5.8 -23.9,-6.4 C-23.4,-7.0 -23.0,-7.6 -22.8,-8.3 C-22.5,-9.0 -22.6,-9.7 -22.6,-10.5 C-22.6,-11.3 -22.8,-12.3 -22.7,-13.1 C-22.6,-13.9 -22.4,-14.8 -22.0,-15.4 C-21.6,-16.1 -20.9,-16.6 -20.3,-17.0 C-19.6,-17.4 -18.7,-17.7 -18.1,-18.1 C-17.4,-18.4 -16.7,-18.8 -16.2,-19.3 C-15.6,-19.8 -15.3,-20.5 -14.8,-21.2 C-14.4,-21.8 -14.0,-22.7 -13.4,-23.3 C-12.9,-23.8 -12.2,-24.4 -11.5,-24.6 C-10.8,-24.9 -9.9,-24.8 -9.0,-24.8 C-8.2,-24.7 -7.3,-24.3 -6.5,-24.2 C-5.7,-24.1 -5.0,-23.9 -4.2,-24.0 C-3.5,-24.1 -2.9,-24.5 -2.2,-24.8 C-1.5,-25.1 -0.7,-25.7 -0.0,-25.9 C0.7,-26.2 1.6,-26.4 2.3,-26.3 C3.1,-26.3 3.8,-25.9 4.5,-25.6 C5.2,-25.2 5.8,-24.6 6.5,-24.2 C7.1,-23.8 7.8,-23.5 8.5,-23.3 C9.2,-23.1 10.0,-23.2 10.8,-23.2 C11.6,-23.2 12.6,-23.4 13.4,-23.3 C14.2,-23.1 15.1,-22.9 15.7,-22.4 C16.3,-22.0 16.8,-21.2 17.2,-20.5 C17.6,-19.8 17.7,-18.8 18.1,-18.1 C18.4,-17.3 18.6,-16.6 19.1,-16.0 C19.5,-15.4 20.1,-15.0 20.7,-14.5 C21.3,-14.0 22.1,-13.6 22.7,-13.1 C23.2,-12.5 23.7,-11.9 24.0,-11.2 C24.3,-10.5 24.3,-9.6 24.2,-8.8 C24.2,-8.0 23.9,-7.2 23.9,-6.4 C23.8,-5.6 23.8,-4.9 24.0,-4.2 C24.1,-3.5 24.6,-2.9 25.0,-2.2 C25.4,-1.5 26.1,-0.8 26.4,0.0Z" fill="#b7b5e8" stroke="#9d9ad8" stroke-width="1"/>
<circle cx="4" cy="3" r="11.5" fill="#9893cc" stroke="#8682bf" stroke-width="0.8"/>
<circle cx="4" cy="-20" r="1.6" fill="#d8d7f5" opacity="0.9"/>
<circle cx="-17" cy="-13" r="1.5" fill="#d8d7f5" opacity="0.9"/>
<circle cx="14" cy="-11" r="2" fill="#d8d7f5" opacity="0.9"/>
<circle cx="18" cy="2" r="1.4" fill="#d8d7f5" opacity="0.9"/>
<circle cx="-19" cy="4" r="1.7" fill="#d8d7f5" opacity="0.9"/>
<circle cx="6" cy="18" r="1.4" fill="#d8d7f5" opacity="0.9"/>
<circle cx="-9" cy="-14" r="0.7" fill="#d8d7f5" opacity="0.6"/>
<circle cx="0" cy="-17" r="0.8" fill="#d8d7f5" opacity="0.6"/>
<circle cx="-12" cy="-7" r="0.6" fill="#d8d7f5" opacity="0.6"/>
<circle cx="16" cy="-6" r="0.7" fill="#d8d7f5" opacity="0.6"/>
<circle cx="17" cy="9" r="0.7" fill="#d8d7f5" opacity="0.6"/>
<circle cx="-11" cy="7" r="0.6" fill="#d8d7f5" opacity="0.6"/>
<circle cx="-9" cy="16" r="0.7" fill="#d8d7f5" opacity="0.6"/>
<circle cx="-2" cy="15" r="0.7" fill="#d8d7f5" opacity="0.6"/>
<circle cx="11" cy="18" r="0.6" fill="#d8d7f5" opacity="0.6"/>
<circle cx="-20" cy="-1" r="0.6" fill="#d8d7f5" opacity="0.6"/>
</g>
<g transform="translate(547.8,224.0)">
<path d="M0,0 L-12.1,7.3 M0,0 L5.5,12.6 M0,0 L14.3,4.7" stroke="#9b9b9b" stroke-width="2" fill="none"/>
<circle cx="-12.1" cy="7.3" r="3.6" fill="#e6e7ea" stroke="#c2c4c8" stroke-width="0.6"/>
<text x="-12.1" y="9.0" font-size="4.6" fill="#7d8188" text-anchor="middle">H</text>
<circle cx="5.5" cy="12.6" r="3.6" fill="#e6e7ea" stroke="#c2c4c8" stroke-width="0.6"/>
<text x="5.5" y="14.299999999999999" font-size="4.6" fill="#7d8188" text-anchor="middle">H</text>
<circle cx="14.3" cy="4.7" r="3.6" fill="#e6e7ea" stroke="#c2c4c8" stroke-width="0.6"/>
<text x="14.3" y="6.4" font-size="4.6" fill="#7d8188" text-anchor="middle">H</text>
<circle r="5.3" fill="#2f7ab9"/>
<text x="0" y="2.7" font-size="7.5" fill="#fff" text-anchor="middle">N</text>
</g>
<g transform="translate(589.6,242.5)">
<path d="M26.4,0.0 C26.8,0.8 27.0,1.6 27.0,2.4 C27.0,3.1 26.6,3.9 26.3,4.6 C25.9,5.3 25.2,6.0 24.8,6.6 C24.4,7.3 23.9,7.9 23.7,8.6 C23.4,9.3 23.4,10.1 23.3,10.9 C23.2,11.7 23.3,12.6 23.1,13.3 C22.9,14.1 22.6,14.9 22.1,15.5 C21.6,16.0 20.7,16.4 20.0,16.8 C19.2,17.1 18.3,17.3 17.6,17.6 C16.8,17.9 16.1,18.1 15.6,18.6 C15.0,19.0 14.7,19.7 14.2,20.3 C13.8,21.0 13.5,21.9 13.0,22.5 C12.5,23.1 11.9,23.8 11.2,24.1 C10.6,24.5 9.7,24.6 9.0,24.6 C8.2,24.7 7.3,24.4 6.6,24.4 C5.8,24.5 5.1,24.4 4.3,24.6 C3.6,24.8 3.0,25.3 2.2,25.7 C1.5,26.1 0.8,26.7 0.0,26.9 C-0.8,27.2 -1.6,27.4 -2.4,27.2 C-3.2,27.1 -3.9,26.7 -4.6,26.2 C-5.3,25.7 -5.9,25.0 -6.6,24.4 C-7.2,23.9 -7.7,23.4 -8.4,23.1 C-9.1,22.8 -9.8,22.8 -10.6,22.7 C-11.3,22.6 -12.2,22.7 -13.0,22.5 C-13.8,22.3 -14.5,22.1 -15.1,21.6 C-15.7,21.2 -16.2,20.4 -16.6,19.8 C-17.0,19.1 -17.2,18.2 -17.6,17.6 C-17.9,16.9 -18.3,16.3 -18.8,15.8 C-19.3,15.3 -20.1,15.0 -20.8,14.6 C-21.5,14.1 -22.4,13.8 -23.1,13.3 C-23.8,12.8 -24.4,12.2 -24.7,11.5 C-25.1,10.8 -25.1,10.0 -25.2,9.2 C-25.2,8.3 -24.9,7.4 -24.8,6.6 C-24.7,5.8 -24.6,5.1 -24.7,4.4 C-24.8,3.6 -25.2,3.0 -25.4,2.2 C-25.7,1.5 -26.2,0.8 -26.4,0.0 C-26.6,-0.8 -26.7,-1.6 -26.6,-2.3 C-26.4,-3.1 -26.0,-3.8 -25.5,-4.5 C-25.0,-5.2 -24.3,-5.8 -23.9,-6.4 C-23.4,-7.0 -23.0,-7.6 -22.8,-8.3 C-22.5,-9.0 -22.6,-9.7 -22.6,-10.5 C-22.6,-11.3 -22.8,-12.3 -22.7,-13.1 C-22.6,-13.9 -22.4,-14.8 -22.0,-15.4 C-21.6,-16.1 -20.9,-16.6 -20.3,-17.0 C-19.6,-17.4 -18.7,-17.7 -18.1,-18.1 C-17.4,-18.4 -16.7,-18.8 -16.2,-19.3 C-15.6,-19.8 -15.3,-20.5 -14.8,-21.2 C-14.4,-21.8 -14.0,-22.7 -13.4,-23.3 C-12.9,-23.8 -12.2,-24.4 -11.5,-24.6 C-10.8,-24.9 -9.9,-24.8 -9.0,-24.8 C-8.2,-24.7 -7.3,-24.3 -6.5,-24.2 C-5.7,-24.1 -5.0,-23.9 -4.2,-24.0 C-3.5,-24.1 -2.9,-24.5 -2.2,-24.8 C-1.5,-25.1 -0.7,-25.7 -0.0,-25.9 C0.7,-26.2 1.6,-26.4 2.3,-26.3 C3.1,-26.3 3.8,-25.9 4.5,-25.6 C5.2,-25.2 5.8,-24.6 6.5,-24.2 C7.1,-23.8 7.8,-23.5 8.5,-23.3 C9.2,-23.1 10.0,-23.2 10.8,-23.2 C11.6,-23.2 12.6,-23.4 13.4,-23.3 C14.2,-23.1 15.1,-22.9 15.7,-22.4 C16.3,-22.0 16.8,-21.2 17.2,-20.5 C17.6,-19.8 17.7,-18.8 18.1,-18.1 C18.4,-17.3 18.6,-16.6 19.1,-16.0 C19.5,-15.4 20.1,-15.0 20.7,-14.5 C21.3,-14.0 22.1,-13.6 22.7,-13.1 C23.2,-12.5 23.7,-11.9 24.0,-11.2 C24.3,-10.5 24.3,-9.6 24.2,-8.8 C24.2,-8.0 23.9,-7.2 23.9,-6.4 C23.8,-5.6 23.8,-4.9 24.0,-4.2 C24.1,-3.5 24.6,-2.9 25.0,-2.2 C25.4,-1.5 26.1,-0.8 26.4,0.0Z" fill="#b7b5e8" stroke="#9d9ad8" stroke-width="1"/>
<circle cx="4" cy="3" r="11.5" fill="#9893cc" stroke="#8682bf" stroke-width="0.8"/>
<circle cx="4" cy="-20" r="1.6" fill="#d8d7f5" opacity="0.9"/>
<circle cx="-17" cy="-13" r="1.5" fill="#d8d7f5" opacity="0.9"/>
<circle cx="14" cy="-11" r="2" fill="#d8d7f5" opacity="0.9"/>
<circle cx="18" cy="2" r="1.4" fill="#d8d7f5" opacity="0.9"/>
<circle cx="-19" cy="4" r="1.7" fill="#d8d7f5" opacity="0.9"/>
<circle cx="6" cy="18" r="1.4" fill="#d8d7f5" opacity="0.9"/>
<circle cx="-9" cy="-14" r="0.7" fill="#d8d7f5" opacity="0.6"/>
<circle cx="0" cy="-17" r="0.8" fill="#d8d7f5" opacity="0.6"/>
<circle cx="-12" cy="-7" r="0.6" fill="#d8d7f5" opacity="0.6"/>
<circle cx="16" cy="-6" r="0.7" fill="#d8d7f5" opacity="0.6"/>
<circle cx="17" cy="9" r="0.7" fill="#d8d7f5" opacity="0.6"/>
<circle cx="-11" cy="7" r="0.6" fill="#d8d7f5" opacity="0.6"/>
<circle cx="-9" cy="16" r="0.7" fill="#d8d7f5" opacity="0.6"/>
<circle cx="-2" cy="15" r="0.7" fill="#d8d7f5" opacity="0.6"/>
<circle cx="11" cy="18" r="0.6" fill="#d8d7f5" opacity="0.6"/>
<circle cx="-20" cy="-1" r="0.6" fill="#d8d7f5" opacity="0.6"/>
</g>
<g transform="translate(550.0,290.9) scale(1.0)">
<ellipse rx="26.8" ry="28" fill="#d39dc0" stroke="#7d4a6e" stroke-width="1"/>
<path d="M-15,-16 C-15,-22 -8,-23 -4,-21 C0,-19 1,-13 -2,-10 C-5,-7 -10,-9 -12,-8 C-14,-6 -12,-3 -9,-2 C-4,-1 -2,4 -3,8 C-4,12 -2,14 0,14 C2,14 3,9 7,7 C11,5 15,9 14,13 C13,18 7,20 2,18 C-2,16 -6,16 -10,14 C-16,12 -18,6 -16,0 C-15,-5 -15,-10 -15,-16Z" fill="#a8618f" stroke="#96527f" stroke-width="0.8"/>
<circle cx="-6" cy="-24" r="0.7" fill="#8e4d79"/>
<circle cx="4" cy="-19" r="0.6" fill="#8e4d79"/>
<circle cx="9" cy="-14" r="0.5" fill="#8e4d79"/>
<circle cx="6" cy="-8" r="0.9" fill="#8e4d79"/>
<circle cx="11" cy="-8" r="0.9" fill="#8e4d79"/>
<circle cx="17" cy="-8" r="0.6" fill="#8e4d79"/>
<circle cx="0" cy="-5" r="0.9" fill="#8e4d79"/>
<circle cx="-4" cy="-3" r="0.8" fill="#8e4d79"/>
<circle cx="14" cy="-1" r="0.9" fill="#8e4d79"/>
<circle cx="7" cy="4" r="0.9" fill="#8e4d79"/>
<circle cx="19" cy="3" r="0.7" fill="#8e4d79"/>
<circle cx="15" cy="8" r="0.6" fill="#8e4d79"/>
<circle cx="20" cy="12" r="0.6" fill="#8e4d79"/>
<circle cx="-19" cy="-11" r="0.7" fill="#8e4d79"/>
<circle cx="-18" cy="-2" r="0.6" fill="#8e4d79"/>
<circle cx="-20" cy="6" r="0.8" fill="#8e4d79"/>
<circle cx="-8" cy="17" r="0.6" fill="#8e4d79"/>
<circle cx="-1" cy="23" r="0.7" fill="#8e4d79"/>
<circle cx="9" cy="21" r="0.6" fill="#8e4d79"/>
<circle cx="0" cy="9" r="0.6" fill="#8e4d79"/>
</g>
<g transform="translate(583.0,277.6)">
<path d="M0,0 L-12.1,7.3 M0,0 L5.5,12.6 M0,0 L14.3,4.7" stroke="#9b9b9b" stroke-width="2" fill="none"/>
<circle cx="-12.1" cy="7.3" r="3.6" fill="#e6e7ea" stroke="#c2c4c8" stroke-width="0.6"/>
<text x="-12.1" y="9.0" font-size="4.6" fill="#7d8188" text-anchor="middle">H</text>
<circle cx="5.5" cy="12.6" r="3.6" fill="#e6e7ea" stroke="#c2c4c8" stroke-width="0.6"/>
<text x="5.5" y="14.299999999999999" font-size="4.6" fill="#7d8188" text-anchor="middle">H</text>
<circle cx="14.3" cy="4.7" r="3.6" fill="#e6e7ea" stroke="#c2c4c8" stroke-width="0.6"/>
<text x="14.3" y="6.4" font-size="4.6" fill="#7d8188" text-anchor="middle">H</text>
<circle r="5.3" fill="#2f7ab9"/>
<text x="0" y="2.7" font-size="7.5" fill="#fff" text-anchor="middle">N</text>
</g>
<g transform="translate(560.0,308.8)">
<path d="M0,0 L-12.1,7.3 M0,0 L5.5,12.6 M0,0 L14.3,4.7" stroke="#9b9b9b" stroke-width="2" fill="none"/>
<circle cx="-12.1" cy="7.3" r="3.6" fill="#e6e7ea" stroke="#c2c4c8" stroke-width="0.6"/>
<text x="-12.1" y="9.0" font-size="4.6" fill="#7d8188" text-anchor="middle">H</text>
<circle cx="5.5" cy="12.6" r="3.6" fill="#e6e7ea" stroke="#c2c4c8" stroke-width="0.6"/>
<text x="5.5" y="14.299999999999999" font-size="4.6" fill="#7d8188" text-anchor="middle">H</text>
<circle cx="14.3" cy="4.7" r="3.6" fill="#e6e7ea" stroke="#c2c4c8" stroke-width="0.6"/>
<text x="14.3" y="6.4" font-size="4.6" fill="#7d8188" text-anchor="middle">H</text>
<circle r="5.3" fill="#2f7ab9"/>
<text x="0" y="2.7" font-size="7.5" fill="#fff" text-anchor="middle">N</text>
</g>
<g transform="translate(611.7,314.4) scale(1.0)">
<ellipse rx="26.8" ry="28" fill="#d39dc0" stroke="#7d4a6e" stroke-width="1"/>
<path d="M-15,-16 C-15,-22 -8,-23 -4,-21 C0,-19 1,-13 -2,-10 C-5,-7 -10,-9 -12,-8 C-14,-6 -12,-3 -9,-2 C-4,-1 -2,4 -3,8 C-4,12 -2,14 0,14 C2,14 3,9 7,7 C11,5 15,9 14,13 C13,18 7,20 2,18 C-2,16 -6,16 -10,14 C-16,12 -18,6 -16,0 C-15,-5 -15,-10 -15,-16Z" fill="#a8618f" stroke="#96527f" stroke-width="0.8"/>
<circle cx="-6" cy="-24" r="0.7" fill="#8e4d79"/>
<circle cx="4" cy="-19" r="0.6" fill="#8e4d79"/>
<circle cx="9" cy="-14" r="0.5" fill="#8e4d79"/>
<circle cx="6" cy="-8" r="0.9" fill="#8e4d79"/>
<circle cx="11" cy="-8" r="0.9" fill="#8e4d79"/>
<circle cx="17" cy="-8" r="0.6" fill="#8e4d79"/>
<circle cx="0" cy="-5" r="0.9" fill="#8e4d79"/>
<circle cx="-4" cy="-3" r="0.8" fill="#8e4d79"/>
<circle cx="14" cy="-1" r="0.9" fill="#8e4d79"/>
<circle cx="7" cy="4" r="0.9" fill="#8e4d79"/>
<circle cx="19" cy="3" r="0.7" fill="#8e4d79"/>
<circle cx="15" cy="8" r="0.6" fill="#8e4d79"/>
<circle cx="20" cy="12" r="0.6" fill="#8e4d79"/>
<circle cx="-19" cy="-11" r="0.7" fill="#8e4d79"/>
<circle cx="-18" cy="-2" r="0.6" fill="#8e4d79"/>
<circle cx="-20" cy="6" r="0.8" fill="#8e4d79"/>
<circle cx="-8" cy="17" r="0.6" fill="#8e4d79"/>
<circle cx="-1" cy="23" r="0.7" fill="#8e4d79"/>
<circle cx="9" cy="21" r="0.6" fill="#8e4d79"/>
<circle cx="0" cy="9" r="0.6" fill="#8e4d79"/>
</g>
<g transform="translate(635.7,335.4)">
<path d="M0,0 L-12.1,7.3 M0,0 L5.5,12.6 M0,0 L14.3,4.7" stroke="#9b9b9b" stroke-width="2" fill="none"/>
<circle cx="-12.1" cy="7.3" r="3.6" fill="#e6e7ea" stroke="#c2c4c8" stroke-width="0.6"/>
<text x="-12.1" y="9.0" font-size="4.6" fill="#7d8188" text-anchor="middle">H</text>
<circle cx="5.5" cy="12.6" r="3.6" fill="#e6e7ea" stroke="#c2c4c8" stroke-width="0.6"/>
<text x="5.5" y="14.299999999999999" font-size="4.6" fill="#7d8188" text-anchor="middle">H</text>
<circle cx="14.3" cy="4.7" r="3.6" fill="#e6e7ea" stroke="#c2c4c8" stroke-width="0.6"/>
<text x="14.3" y="6.4" font-size="4.6" fill="#7d8188" text-anchor="middle">H</text>
<circle r="5.3" fill="#2f7ab9"/>
<text x="0" y="2.7" font-size="7.5" fill="#fff" text-anchor="middle">N</text>
</g>
<defs><clipPath id="lm"><path d="M87.4,536.4 C88.1,530.7 90.4,523.2 94.3,518.5 C98.2,513.8 104.4,510.3 110.9,508.3 C117.3,506.2 125.2,505.0 133.0,506.0 C140.8,507.1 149.1,509.3 157.8,514.3 C166.6,519.4 176.7,527.7 185.4,536.4 C194.2,545.2 202.9,555.7 210.3,566.8 C217.6,577.8 224.8,591.6 229.6,602.7 C234.4,613.7 237.9,623.8 239.3,633.0 C240.7,642.2 240.0,650.8 237.9,657.9 C235.8,665.0 231.9,671.7 226.8,675.8 C221.8,680.0 214.4,683.0 207.5,682.7 C200.6,682.5 191.9,678.6 185.4,674.5 C179.0,670.3 173.5,664.8 168.9,657.9 C164.3,651.0 161.0,640.9 157.8,633.0 C154.6,625.2 154.1,618.3 149.5,611.0 C144.9,603.6 137.6,595.8 130.2,588.9 C122.9,582.0 112.0,575.5 105.4,569.5 C98.7,563.6 93.2,558.5 90.2,553.0 C87.2,547.5 86.7,542.2 87.4,536.4Z"/></clipPath></defs>
<g clip-path="url(#lm)" stroke-linecap="round">
<path d="M87.4,536.4 C88.1,530.7 90.4,523.2 94.3,518.5 C98.2,513.8 104.4,510.3 110.9,508.3 C117.3,506.2 125.2,505.0 133.0,506.0 C140.8,507.1 149.1,509.3 157.8,514.3 C166.6,519.4 176.7,527.7 185.4,536.4 C194.2,545.2 202.9,555.7 210.3,566.8 C217.6,577.8 224.8,591.6 229.6,602.7 C234.4,613.7 237.9,623.8 239.3,633.0 C240.7,642.2 240.0,650.8 237.9,657.9 C235.8,665.0 231.9,671.7 226.8,675.8 C221.8,680.0 214.4,683.0 207.5,682.7 C200.6,682.5 191.9,678.6 185.4,674.5 C179.0,670.3 173.5,664.8 168.9,657.9 C164.3,651.0 161.0,640.9 157.8,633.0 C154.6,625.2 154.1,618.3 149.5,611.0 C144.9,603.6 137.6,595.8 130.2,588.9 C122.9,582.0 112.0,575.5 105.4,569.5 C98.7,563.6 93.2,558.5 90.2,553.0 C87.2,547.5 86.7,542.2 87.4,536.4Z" fill="#e8f2e6" stroke="#c9e6c6" stroke-width="16"/>
<line x1="124.7" y1="511.6" x2="121.9" y2="533.7" stroke="#c9e6c6" stroke-width="7.8"/>
<line x1="155.1" y1="521.2" x2="144.0" y2="546.1" stroke="#c9e6c6" stroke-width="7.8"/>
<line x1="181.3" y1="536.4" x2="164.7" y2="564.0" stroke="#c9e6c6" stroke-width="7.8"/>
<line x1="202.0" y1="555.7" x2="188.2" y2="572.3" stroke="#c9e6c6" stroke-width="7.8"/>
<line x1="221.3" y1="580.6" x2="188.2" y2="593.0" stroke="#c9e6c6" stroke-width="7.8"/>
<line x1="232.4" y1="605.4" x2="204.8" y2="612.3" stroke="#c9e6c6" stroke-width="7.8"/>
<line x1="240.7" y1="629.7" x2="199.2" y2="634.4" stroke="#c9e6c6" stroke-width="7.8"/>
<line x1="236.5" y1="656.5" x2="215.8" y2="647.4" stroke="#c9e6c6" stroke-width="7.8"/>
<line x1="90.2" y1="539.7" x2="109.5" y2="536.4" stroke="#c9e6c6" stroke-width="7.8"/>
<line x1="97.1" y1="556.3" x2="122.5" y2="547.5" stroke="#c9e6c6" stroke-width="7.8"/>
<line x1="110.9" y1="567.3" x2="126.1" y2="574.5" stroke="#c9e6c6" stroke-width="7.8"/>
<line x1="127.5" y1="590.3" x2="150.1" y2="560.7" stroke="#c9e6c6" stroke-width="7.8"/>
<line x1="145.4" y1="608.2" x2="172.2" y2="578.4" stroke="#c9e6c6" stroke-width="7.8"/>
<line x1="153.7" y1="605.4" x2="168.3" y2="601.6" stroke="#c9e6c6" stroke-width="7.8"/>
<line x1="157.8" y1="628.9" x2="188.7" y2="620.6" stroke="#c9e6c6" stroke-width="7.8"/>
<line x1="167.5" y1="647.4" x2="195.9" y2="638.6" stroke="#c9e6c6" stroke-width="7.8"/>
<line x1="181.3" y1="668.9" x2="196.5" y2="655.7" stroke="#c9e6c6" stroke-width="7.8"/>
<line x1="204.2" y1="680.0" x2="207.5" y2="658.4" stroke="#c9e6c6" stroke-width="7.8"/>
</g>
<path d="M87.4,536.4 C88.1,530.7 90.4,523.2 94.3,518.5 C98.2,513.8 104.4,510.3 110.9,508.3 C117.3,506.2 125.2,505.0 133.0,506.0 C140.8,507.1 149.1,509.3 157.8,514.3 C166.6,519.4 176.7,527.7 185.4,536.4 C194.2,545.2 202.9,555.7 210.3,566.8 C217.6,577.8 224.8,591.6 229.6,602.7 C234.4,613.7 237.9,623.8 239.3,633.0 C240.7,642.2 240.0,650.8 237.9,657.9 C235.8,665.0 231.9,671.7 226.8,675.8 C221.8,680.0 214.4,683.0 207.5,682.7 C200.6,682.5 191.9,678.6 185.4,674.5 C179.0,670.3 173.5,664.8 168.9,657.9 C164.3,651.0 161.0,640.9 157.8,633.0 C154.6,625.2 154.1,618.3 149.5,611.0 C144.9,603.6 137.6,595.8 130.2,588.9 C122.9,582.0 112.0,575.5 105.4,569.5 C98.7,563.6 93.2,558.5 90.2,553.0 C87.2,547.5 86.7,542.2 87.4,536.4Z" fill="none" stroke="#c0e0bd" stroke-width="0.8"/>
<circle cx="366.5" cy="545" r="69.5" fill="#e1eef0"/>
<path d="M297.4,538.0 A69.5,69.5 0 0 1 337.1,482.0" fill="none" stroke="#1a1a1a" stroke-width="1.5"/>
<path d="M396.0,482.1 A69.5,69.5 0 0 1 434.5,530.6" fill="none" stroke="#1a1a1a" stroke-width="1.5"/>
<path d="M433.5,563.3 A69.5,69.5 0 0 1 394.8,608.5" fill="none" stroke="#1a1a1a" stroke-width="1.5"/>
<path d="M341.0,609.7 A69.5,69.5 0 0 1 299.7,564.2" fill="none" stroke="#1a1a1a" stroke-width="1.5"/>
<path d="M341.0,480.3 L335.1,485.9 L335.4,482.5 L333.0,480.3Z" fill="#1a1a1a"/>
<path d="M435.2,534.4 L431.1,527.4 L434.3,528.4 L437.0,526.5Z" fill="#1a1a1a"/>
<path d="M390.6,610.2 L396.6,604.8 L396.2,608.1 L398.7,610.4Z" fill="#1a1a1a"/>
<path d="M298.6,560.0 L303.2,566.7 L299.9,565.9 L297.3,568.0Z" fill="#1a1a1a"/>
<g fill="none" stroke="#1a1a1a" stroke-width="1.5">
<path d="M244.3,517.3 C256,532 278,536 298.5,533"/>
<path d="M433.5,485 C424,494 424,508 433,524"/>
<path d="M432.6,568 C428,580 416,596 426.5,613"/>
<path d="M321,616.5 C322,598 316,584 302,581 C288,578 276,584 270,592"/>
</g>
<path d="M430.0,618.3 L423.3,613.8 L426.6,613.3 L428.3,610.4Z" fill="#1a1a1a"/>
<path d="M266.5,596.0 L268.3,588.1 L269.9,591.1 L273.3,591.6Z" fill="#1a1a1a"/>
<line x1="232" y1="463.5" x2="232" y2="479.9" stroke="#1a1a1a" stroke-width="1.6"/>
<path d="M232.0,483.5 L229.2,477.5 L232.0,478.7 L234.8,477.5Z" fill="#1a1a1a"/>
<defs><linearGradient id="mg" gradientUnits="userSpaceOnUse" x1="730" y1="560" x2="800" y2="540"><stop offset="0" stop-color="#efb68c"/><stop offset="0.3" stop-color="#f1c09a"/><stop offset="0.62" stop-color="#f4caa8"/><stop offset="0.85" stop-color="#f1c29d"/><stop offset="1" stop-color="#f1c29d"/></linearGradient>
<clipPath id="mclip"><path d="M807.6,463.8 L810.9,464.1 L814.3,464.6 L817.8,465.2 L821.3,466.1 L824.8,467.1 L828.3,468.3 L831.9,469.7 L835.5,471.3 L839.2,473.1 L842.8,475.1 L846.5,477.1 L850.0,479.2 L853.4,481.3 L856.6,483.4 L859.8,485.6 L863.0,487.8 L866.1,490.2 L869.2,492.6 L872.3,495.1 L875.3,497.6 L878.2,500.1 L881.0,502.6 L883.6,505.2 L886.0,508.0 L888.2,510.9 L890.3,513.9 L892.3,517.1 L894.2,520.5 L896.1,524.2 L897.8,528.1 L899.6,532.3 L901.2,537.0 L902.8,541.8 L904.3,546.9 L905.7,551.9 L906.9,556.8 L908.1,561.7 L909.1,566.6 L910.0,571.5 L910.8,576.3 L911.3,581.0 L911.7,585.5 L911.9,589.9 L911.9,594.2 L911.7,598.5 L911.3,602.7 L910.9,606.8 L910.3,610.7 L909.6,614.4 L908.8,617.8 L907.8,621.2 L906.8,624.5 L905.6,627.8 L904.3,631.0 L902.9,634.3 L901.4,637.4 L899.8,640.6 L898.0,643.7 L896.2,646.8 L894.4,649.9 L892.5,652.9 L890.4,655.9 L888.4,658.9 L886.3,661.7 L884.2,664.4 L882.1,666.9 L880.0,669.2 L877.9,671.4 L875.8,673.4 L873.6,675.3 L871.5,677.1 L869.3,678.8 L867.2,680.3 L865.1,681.8 L863.2,683.0 L861.5,683.9 L860.1,684.5 L859.0,684.8 L857.9,684.8 L856.6,684.6 L854.9,684.1 L853.0,683.4 L851.0,682.6 L849.1,681.8 L847.5,681.2 L846.2,680.5 L845.1,679.8 L843.8,679.0 L842.3,677.9 L840.5,676.7 L838.5,675.2 L836.2,673.5 L833.8,671.7 L831.5,669.9 L829.3,668.0 L827.3,666.3 L825.5,664.6 L823.8,662.8 L822.3,661.1 L820.8,659.3 L819.3,657.5 L817.9,655.5 L816.5,653.5 L815.1,651.3 L813.8,649.1 L812.6,646.8 L811.3,644.3 L810.1,641.7 L808.8,639.0 L807.7,636.2 L806.5,633.4 L805.4,630.3 L804.2,627.1 L803.0,623.6 L801.8,619.7 L800.6,615.6 L799.3,611.2 L798.0,606.7 L796.7,602.2 L795.5,597.8 L794.3,593.7 L793.1,589.6 L791.9,585.6 L790.7,581.5 L789.4,577.4 L788.1,573.2 L786.7,569.0 L785.1,564.7 L783.6,560.5 L782.0,556.3 L780.5,552.1 L779.1,547.9 L777.7,543.8 L776.2,539.5 L774.8,535.3 L773.5,531.1 L772.2,527.1 L771.1,523.2 L770.0,519.4 L769.0,515.8 L768.0,512.2 L767.2,508.9 L766.5,505.7 L765.9,502.7 L765.5,499.8 L765.2,497.1 L765.0,494.6 L764.9,492.1 L764.9,489.9 L765.1,487.7 L765.3,485.7 L765.6,483.8 L766.0,482.1 L766.5,480.6 L767.1,479.2 L767.8,477.8 L768.6,476.5 L769.5,475.3 L770.4,474.1 L771.5,473.1 L772.7,472.1 L774.1,471.1 L775.8,470.2 L777.7,469.2 L779.9,468.4 L782.3,467.5 L784.9,466.8 L787.8,466.1 L790.8,465.4 L794.1,464.8 L797.5,464.3 L801.0,463.9 L804.3,463.7Z"/></clipPath></defs>
<g stroke-linejoin="round">
<path d="M805.0,453.5 L809.1,453.9 L813.4,454.7 L817.9,455.8 L822.4,457.1 L826.8,458.5 L831.0,460.0 L835.0,461.6 L839.0,463.4 L842.8,465.3 L846.6,467.3 L850.3,469.4 L854.0,471.5 L857.6,473.7 L861.1,475.9 L864.5,478.2 L867.9,480.5 L871.2,483.0 L874.5,485.5 L877.8,488.1 L881.0,490.7 L884.2,493.5 L887.3,496.3 L890.3,499.3 L893.0,502.5 L895.5,505.8 L897.9,509.3 L900.1,512.9 L902.1,516.7 L904.1,520.8 L906.0,525.0 L907.8,529.6 L909.6,534.4 L911.2,539.5 L912.8,544.7 L914.2,549.9 L915.5,555.0 L916.7,560.0 L917.7,565.1 L918.7,570.2 L919.5,575.2 L920.1,580.2 L920.5,585.0 L920.7,589.7 L920.7,594.4 L920.5,599.0 L920.1,603.4 L919.6,607.8 L919.0,612.0 L918.3,616.0 L917.4,619.9 L916.3,623.7 L915.1,627.3 L913.9,630.9 L912.5,634.5 L911.0,638.1 L909.4,641.6 L907.7,645.0 L905.8,648.4 L903.9,651.8 L902.0,655.0 L900.0,658.2 L897.9,661.4 L895.7,664.4 L893.5,667.4 L891.3,670.3 L889.0,673.0 L886.7,675.6 L884.4,678.0 L882.1,680.4 L879.7,682.6 L877.3,684.6 L875.0,686.5 L872.7,688.2 L870.3,689.7 L868.0,691.1 L865.6,692.3 L863.3,693.4 L861.0,694.5 L858.8,695.5 L856.7,696.3 L854.5,697.1 L852.4,697.7 L850.1,698.3 L847.7,698.8 L845.1,699.3 L842.4,699.7 L839.6,700.1 L836.7,700.3 L833.7,700.3 L830.6,700.0 L827.2,699.4 L823.6,698.5 L819.8,697.4 L816.1,696.1 L812.6,694.8 L809.4,693.4 L806.6,692.0 L804.0,690.6 L801.6,689.0 L799.3,687.4 L797.1,685.7 L795.0,684.0 L793.0,682.2 L791.1,680.3 L789.2,678.4 L787.5,676.3 L785.7,674.2 L783.8,672.0 L781.8,669.7 L779.8,667.3 L777.8,664.8 L775.8,662.3 L773.8,659.7 L772.0,657.0 L770.3,654.3 L768.7,651.5 L767.2,648.7 L765.7,645.8 L764.2,642.9 L762.6,640.0 L761.0,637.1 L759.3,634.1 L757.7,631.1 L756.1,628.0 L754.5,625.0 L753.0,622.0 L751.6,619.0 L750.3,616.0 L749.1,613.1 L747.9,610.1 L746.7,607.1 L745.5,604.0 L744.2,600.9 L742.9,597.8 L741.6,594.6 L740.3,591.4 L739.1,588.2 L738.0,585.0 L737.0,581.7 L736.0,578.4 L735.2,575.1 L734.4,571.7 L733.6,568.3 L733.0,565.0 L732.5,561.6 L732.0,558.1 L731.6,554.6 L731.3,551.2 L731.1,548.0 L731.0,545.0 L731.0,542.3 L731.1,539.9 L731.4,537.6 L731.6,535.4 L731.9,533.1 L732.2,530.8 L732.4,528.3 L732.7,525.8 L733.0,523.3 L733.2,520.8 L733.6,518.3 L734.0,516.0 L734.5,513.8 L735.0,511.7 L735.6,509.7 L736.3,507.7 L736.9,505.8 L737.6,503.9 L738.3,502.0 L738.9,500.2 L739.6,498.4 L740.4,496.6 L741.1,494.8 L742.0,493.0 L742.9,491.2 L743.9,489.3 L744.9,487.5 L746.0,485.7 L747.1,484.0 L748.3,482.3 L749.5,480.7 L750.7,479.2 L752.0,477.7 L753.3,476.3 L754.7,474.9 L756.0,473.5 L757.4,472.2 L758.7,470.9 L760.1,469.6 L761.6,468.4 L763.0,467.2 L764.5,466.2 L766.0,465.3 L767.6,464.4 L769.1,463.6 L770.7,462.9 L772.4,462.2 L774.0,461.5 L775.5,460.8 L777.0,460.1 L778.4,459.5 L780.0,458.8 L781.9,458.2 L784.2,457.5 L787.0,456.7 L790.2,455.8 L793.6,454.8 L797.3,454.1 L801.1,453.6Z" fill="url(#mg)" stroke="#ec9a64" stroke-width="1.4"/>
<path d="M808.0,456.0 L811.8,456.3 L815.6,456.9 L819.4,457.6 L823.3,458.6 L827.2,459.7 L831.0,461.0 L834.9,462.5 L838.8,464.3 L842.7,466.2 L846.6,468.2 L850.3,470.4 L854.0,472.5 L857.5,474.7 L861.0,476.9 L864.3,479.2 L867.6,481.6 L870.8,484.0 L874.0,486.5 L877.2,489.0 L880.3,491.6 L883.4,494.2 L886.4,497.0 L889.3,499.9 L892.0,503.0 L894.5,506.3 L896.8,509.6 L899.0,513.2 L901.1,516.9 L903.1,520.8 L905.0,525.0 L906.8,529.5 L908.6,534.4 L910.2,539.5 L911.8,544.7 L913.2,549.9 L914.5,555.0 L915.7,560.0 L916.7,565.1 L917.7,570.2 L918.5,575.2 L919.1,580.2 L919.5,585.0 L919.7,589.7 L919.7,594.4 L919.5,599.0 L919.1,603.5 L918.6,607.8 L918.0,612.0 L917.3,616.0 L916.4,619.8 L915.3,623.4 L914.1,627.0 L912.9,630.5 L911.5,634.0 L910.0,637.5 L908.4,640.9 L906.7,644.2 L904.8,647.6 L902.9,650.8 L901.0,654.0 L899.0,657.2 L896.9,660.3 L894.7,663.4 L892.5,666.4 L890.3,669.3 L888.0,672.0 L885.7,674.5 L883.4,676.9 L881.1,679.2 L878.7,681.3 L876.3,683.2 L874.0,685.0 L871.7,686.7 L869.3,688.3 L867.0,689.8 L864.7,691.0 L862.3,692.0 L860.0,692.5 L857.6,692.6 L855.2,692.2 L852.8,691.6 L850.4,690.8 L848.1,689.9 L846.0,689.0 L844.1,688.2 L842.5,687.4 L841.0,686.5 L839.5,685.5 L837.9,684.3 L836.0,683.0 L833.9,681.5 L831.5,679.7 L829.0,677.9 L826.6,675.9 L824.2,673.9 L822.0,672.0 L820.0,670.1 L818.2,668.2 L816.4,666.2 L814.7,664.3 L813.1,662.2 L811.5,660.0 L810.0,657.7 L808.5,655.4 L807.1,652.9 L805.7,650.4 L804.3,647.8 L803.0,645.0 L801.7,642.1 L800.5,639.2 L799.2,636.2 L798.0,633.0 L796.8,629.6 L795.6,626.0 L794.3,622.1 L793.1,617.8 L791.8,613.3 L790.5,608.8 L789.3,604.3 L788.0,600.0 L786.8,595.9 L785.6,591.8 L784.4,587.8 L783.2,583.8 L782.0,579.8 L780.7,575.7 L779.3,571.6 L777.8,567.4 L776.2,563.2 L774.7,558.9 L773.2,554.7 L771.7,550.5 L770.3,546.3 L768.8,542.0 L767.4,537.7 L766.1,533.5 L764.8,529.4 L763.6,525.4 L762.5,521.6 L761.4,517.8 L760.5,514.2 L759.6,510.7 L758.8,507.3 L758.2,504.0 L757.7,500.9 L757.4,497.9 L757.2,495.0 L757.1,492.2 L757.1,489.6 L757.3,487.0 L757.6,484.6 L758.0,482.2 L758.5,480.0 L759.2,477.9 L760.0,475.9 L761.0,474.0 L762.1,472.2 L763.3,470.4 L764.7,468.8 L766.3,467.3 L768.0,465.8 L770.0,464.5 L772.2,463.3 L774.6,462.1 L777.2,461.1 L780.0,460.1 L782.9,459.3 L786.0,458.5 L789.3,457.8 L792.9,457.1 L796.6,456.6 L800.4,456.1 L804.2,455.9Z" fill="#f6d3b5" stroke="#ee9f6c" stroke-width="1.2"/>
<path d="M807.6,464.5 L810.8,464.8 L814.2,465.3 L817.6,465.9 L821.1,466.8 L824.6,467.8 L828.1,469.0 L831.6,470.4 L835.2,472.0 L838.8,473.8 L842.5,475.7 L846.1,477.7 L849.6,479.8 L853.0,481.8 L856.3,484.0 L859.4,486.1 L862.5,488.4 L865.6,490.7 L868.7,493.2 L871.8,495.6 L874.9,498.1 L877.8,500.6 L880.5,503.1 L883.1,505.7 L885.4,508.4 L887.6,511.3 L889.7,514.3 L891.7,517.5 L893.6,520.9 L895.4,524.5 L897.2,528.3 L898.9,532.6 L900.6,537.2 L902.1,542.0 L903.6,547.0 L905.0,552.1 L906.2,557.0 L907.4,561.9 L908.4,566.8 L909.3,571.6 L910.1,576.4 L910.6,581.0 L911.0,585.5 L911.2,589.9 L911.2,594.2 L911.0,598.5 L910.6,602.7 L910.2,606.7 L909.6,610.6 L908.9,614.2 L908.1,617.7 L907.2,621.0 L906.1,624.3 L904.9,627.5 L903.6,630.7 L902.3,634.0 L900.8,637.1 L899.1,640.3 L897.4,643.4 L895.6,646.5 L893.8,649.5 L891.9,652.5 L889.9,655.5 L887.8,658.5 L885.7,661.3 L883.7,664.0 L881.6,666.4 L879.5,668.7 L877.4,670.9 L875.3,672.9 L873.2,674.8 L871.0,676.6 L868.9,678.2 L866.8,679.7 L864.7,681.2 L862.8,682.4 L861.2,683.3 L859.9,683.8 L858.9,684.1 L857.9,684.1 L856.7,683.9 L855.1,683.4 L853.2,682.7 L851.2,681.9 L849.4,681.2 L847.8,680.5 L846.6,679.9 L845.5,679.2 L844.2,678.4 L842.7,677.4 L841.0,676.1 L838.9,674.6 L836.6,672.9 L834.2,671.2 L831.9,669.3 L829.7,667.5 L827.8,665.8 L826.0,664.1 L824.4,662.4 L822.8,660.6 L821.3,658.9 L819.9,657.1 L818.5,655.1 L817.1,653.1 L815.7,651.0 L814.5,648.8 L813.2,646.4 L811.9,644.0 L810.7,641.4 L809.5,638.7 L808.3,636.0 L807.2,633.1 L806.0,630.1 L804.9,626.8 L803.7,623.4 L802.5,619.5 L801.2,615.4 L800.0,611.0 L798.7,606.5 L797.4,602.0 L796.2,597.6 L794.9,593.5 L793.8,589.4 L792.6,585.4 L791.4,581.3 L790.1,577.2 L788.8,573.0 L787.3,568.8 L785.8,564.5 L784.2,560.2 L782.7,556.0 L781.2,551.9 L779.7,547.7 L778.3,543.5 L776.9,539.3 L775.5,535.1 L774.2,530.9 L772.9,526.9 L771.8,523.0 L770.7,519.2 L769.6,515.6 L768.7,512.1 L767.8,508.7 L767.1,505.6 L766.6,502.6 L766.2,499.8 L765.9,497.1 L765.7,494.5 L765.6,492.1 L765.6,489.9 L765.8,487.8 L766.0,485.8 L766.3,484.0 L766.7,482.3 L767.2,480.8 L767.8,479.4 L768.4,478.1 L769.2,476.9 L770.0,475.7 L770.9,474.6 L771.9,473.6 L773.1,472.7 L774.5,471.7 L776.1,470.8 L778.0,469.9 L780.2,469.0 L782.5,468.2 L785.1,467.5 L787.9,466.8 L791.0,466.1 L794.2,465.5 L797.6,465.0 L801.0,464.6 L804.3,464.4Z" fill="#fbe8da" stroke="#f0a678" stroke-width="1.2"/>
<g clip-path="url(#mclip)" fill="none" stroke-linecap="round">
<line x1="758" y1="503.5" x2="822" y2="497.5" stroke="#f0a678" stroke-width="10"/>
<line x1="768" y1="543.5" x2="813" y2="533.2" stroke="#f0a678" stroke-width="10"/>
<line x1="772" y1="570" x2="823.5" y2="557.8" stroke="#f0a678" stroke-width="10"/>
<line x1="780" y1="594" x2="811.4" y2="588.7" stroke="#f0a678" stroke-width="10"/>
<line x1="792" y1="620" x2="812" y2="628" stroke="#f0a678" stroke-width="10"/>
<line x1="880" y1="521" x2="852" y2="532.4" stroke="#f0a678" stroke-width="10"/>
<line x1="916" y1="550" x2="881" y2="555.6" stroke="#f0a678" stroke-width="10"/>
<line x1="926" y1="580.3" x2="870.2" y2="585.5" stroke="#f0a678" stroke-width="10"/>
<line x1="926" y1="619.5" x2="884.4" y2="625.7" stroke="#f0a678" stroke-width="10"/>
<line x1="912" y1="672" x2="872.5" y2="656" stroke="#f0a678" stroke-width="10"/>
<line x1="833" y1="458" x2="823" y2="482.7" stroke="#f0a678" stroke-width="10"/>
<line x1="871" y1="474" x2="858" y2="494" stroke="#f0a678" stroke-width="10"/>
<line x1="864" y1="700" x2="859.5" y2="666" stroke="#f0a678" stroke-width="10"/>
<line x1="758" y1="503.5" x2="822" y2="497.5" stroke="#f6d3b5" stroke-width="7.6"/>
<line x1="768" y1="543.5" x2="813" y2="533.2" stroke="#f6d3b5" stroke-width="7.6"/>
<line x1="772" y1="570" x2="823.5" y2="557.8" stroke="#f6d3b5" stroke-width="7.6"/>
<line x1="780" y1="594" x2="811.4" y2="588.7" stroke="#f6d3b5" stroke-width="7.6"/>
<line x1="792" y1="620" x2="812" y2="628" stroke="#f6d3b5" stroke-width="7.6"/>
<line x1="880" y1="521" x2="852" y2="532.4" stroke="#f6d3b5" stroke-width="7.6"/>
<line x1="916" y1="550" x2="881" y2="555.6" stroke="#f6d3b5" stroke-width="7.6"/>
<line x1="926" y1="580.3" x2="870.2" y2="585.5" stroke="#f6d3b5" stroke-width="7.6"/>
<line x1="926" y1="619.5" x2="884.4" y2="625.7" stroke="#f6d3b5" stroke-width="7.6"/>
<line x1="912" y1="672" x2="872.5" y2="656" stroke="#f6d3b5" stroke-width="7.6"/>
<line x1="833" y1="458" x2="823" y2="482.7" stroke="#f6d3b5" stroke-width="7.6"/>
<line x1="871" y1="474" x2="858" y2="494" stroke="#f6d3b5" stroke-width="7.6"/>
<line x1="864" y1="700" x2="859.5" y2="666" stroke="#f6d3b5" stroke-width="7.6"/>
</g>
</g>
<circle cx="630.6" cy="551.2" r="69.5" fill="#f6ceb2"/>
<path d="M699.2,540.2 A69.5,69.5 0 0 0 665.9,491.3" fill="none" stroke="#1a1a1a" stroke-width="1.5"/>
<path d="M605.1,486.5 A69.5,69.5 0 0 0 563.3,533.8" fill="none" stroke="#1a1a1a" stroke-width="1.5"/>
<path d="M562.2,563.6 A69.5,69.5 0 0 0 600.1,613.7" fill="none" stroke="#1a1a1a" stroke-width="1.5"/>
<path d="M653.9,616.7 A69.5,69.5 0 0 0 698.5,566.2" fill="none" stroke="#1a1a1a" stroke-width="1.5"/>
<path d="M662.3,489.3 L670.3,490.1 L667.6,492.1 L667.6,495.4Z" fill="#1a1a1a"/>
<path d="M562.4,537.6 L561.0,529.6 L563.6,531.7 L566.9,530.8Z" fill="#1a1a1a"/>
<path d="M604.2,615.5 L596.2,615.4 L598.7,613.2 L598.4,609.9Z" fill="#1a1a1a"/>
<path d="M699.2,562.4 L700.9,570.3 L698.2,568.4 L695.0,569.3Z" fill="#1a1a1a"/>
<g fill="none" stroke="#1a1a1a" stroke-width="1.5">
<path d="M562.5,487.6 C572,498 572,512 564,528"/>
<path d="M576.3,589.8 C582,600 580,612 570,618"/>
<path d="M677.1,620.2 C672,604 676,592 689.6,585.7 C704,580 720,584 727,594"/>
<path d="M749.8,505 C736,518 712,522 692.3,517.2" stroke-width="2"/>
</g>
<path d="M566.6,621.0 L570.4,613.9 L571.2,617.1 L574.3,618.5Z" fill="#1a1a1a"/>
<path d="M729.6,597.5 L722.8,593.1 L726.2,592.6 L727.8,589.6Z" fill="#1a1a1a"/>
<line x1="752.7" y1="464.2" x2="752.7" y2="479.9" stroke="#1a1a1a" stroke-width="1.6"/>
<path d="M752.7,483.5 L750.0,477.5 L752.7,478.7 L755.5,477.5Z" fill="#1a1a1a"/>
<path d="M665.6,503.8 L693.6,496.3 M684.2,485.2 L678,514.9" stroke="#c0272d" stroke-width="1.8" fill="none"/>
<path d="M874.6,275.2 L905,275.2 M890,275.2 L890,321.3" stroke="#2f6b1e" stroke-width="4.2" fill="none"/>
<circle cx="888.6" cy="360" r="31.5" fill="#fff" stroke="#d4d4d4" stroke-width="5.5"/>
<circle cx="888.6" cy="360" r="34.3" fill="none" stroke="#9e9e9e" stroke-width="1.2"/>
<circle cx="888.6" cy="360" r="28.7" fill="none" stroke="#a6a6a6" stroke-width="1.1"/>
<path d="M873.2,347.0 C874.0,347.8 875.9,350.4 878.0,351.5 C880.1,352.6 883.2,353.2 886.0,353.5 C888.8,353.8 892.2,352.8 895.0,353.0 C897.8,353.2 900.6,353.8 903.0,355.0 C905.4,356.2 908.1,359.2 909.1,360.0" fill="none" stroke="#57b368" stroke-width="1"/>
<path d="M873.2,347.0 C874.0,347.8 875.9,350.4 878.0,351.5 C880.1,352.6 883.2,353.2 886.0,353.5 C888.8,353.8 892.2,352.8 895.0,353.0 C897.8,353.2 900.6,353.8 903.0,355.0 C905.4,356.2 908.1,359.2 909.1,360.0" fill="none" stroke="#7cc88a" stroke-width="3.2" stroke-dasharray="0.6 1.2" transform="translate(-0.6,-1.5)"/>
<path d="M870.4,355.3 C871.2,356.2 872.9,359.5 875.0,361.0 C877.1,362.5 880.3,363.6 883.0,364.5 C885.7,365.4 888.7,365.5 891.0,366.5 C893.3,367.5 895.4,368.9 897.0,370.5 C898.6,372.1 900.2,375.1 900.8,376.0" fill="none" stroke="#57b368" stroke-width="1"/>
<path d="M870.4,355.3 C871.2,356.2 872.9,359.5 875.0,361.0 C877.1,362.5 880.3,363.6 883.0,364.5 C885.7,365.4 888.7,365.5 891.0,366.5 C893.3,367.5 895.4,368.9 897.0,370.5 C898.6,372.1 900.2,375.1 900.8,376.0" fill="none" stroke="#7cc88a" stroke-width="3.2" stroke-dasharray="0.6 1.2" transform="translate(-0.6,-1.5)"/>
<path d="M853.8,392 L815.2,425.8 M808.5,418.9 L822.3,433.2" stroke="#2f6b1e" stroke-width="4.2" fill="none"/>
<path d="M907,401.5 C921.5,420 923.5,452 903.5,474.5 L900.8,472 C918.5,451 919.5,423 907,401.5Z" fill="#2f6b1e"/>
<path d="M894.7,483.2 L898.3,462.2 L913.5,476.8Z" fill="#2f6b1e"/>
<g>
<circle cx="884.6" cy="494.6" r="9.2" fill="#275a33"/>
<circle cx="875.6" cy="501.6" r="8.7" fill="#275a33"/>
<circle cx="893.6" cy="502.6" r="9.2" fill="#275a33"/>
<circle cx="868.6" cy="511.6" r="8.7" fill="#275a33"/>
<circle cx="876.6" cy="513.6" r="10.7" fill="#275a33"/>
<circle cx="890.6" cy="511.6" r="11.7" fill="#275a33"/>
<circle cx="900.6" cy="512.6" r="9.2" fill="#275a33"/>
<circle cx="871.6" cy="520.6" r="8.2" fill="#275a33"/>
<circle cx="881.6" cy="523.6" r="9.7" fill="#275a33"/>
<circle cx="893.6" cy="524.6" r="10.2" fill="#275a33"/>
<circle cx="899.6" cy="520.6" r="7.7" fill="#275a33"/>
<circle cx="886.6" cy="506.6" r="11.7" fill="#275a33"/>
<circle cx="867.6" cy="516.6" r="7.2" fill="#275a33"/>
<circle cx="896.6" cy="529.6" r="6.7" fill="#275a33"/>
<circle cx="902.6" cy="507.6" r="6.7" fill="#275a33"/>
<circle cx="880.6" cy="493.6" r="6.7" fill="#275a33"/>
<circle cx="889.6" cy="492.6" r="6.2" fill="#275a33"/>
<circle cx="874.6" cy="526.6" r="6.7" fill="#275a33"/>
<circle cx="884.6" cy="494.6" r="8.5" fill="#2f6a3c"/>
<circle cx="875.6" cy="501.6" r="8" fill="#2f6a3c"/>
<circle cx="893.6" cy="502.6" r="8.5" fill="#2f6a3c"/>
<circle cx="868.6" cy="511.6" r="8" fill="#2f6a3c"/>
<circle cx="876.6" cy="513.6" r="10" fill="#2f6a3c"/>
<circle cx="890.6" cy="511.6" r="11" fill="#2f6a3c"/>
<circle cx="900.6" cy="512.6" r="8.5" fill="#2f6a3c"/>
<circle cx="871.6" cy="520.6" r="7.5" fill="#2f6a3c"/>
<circle cx="881.6" cy="523.6" r="9" fill="#2f6a3c"/>
<circle cx="893.6" cy="524.6" r="9.5" fill="#2f6a3c"/>
<circle cx="899.6" cy="520.6" r="7" fill="#2f6a3c"/>
<circle cx="886.6" cy="506.6" r="11" fill="#2f6a3c"/>
<circle cx="867.6" cy="516.6" r="6.5" fill="#2f6a3c"/>
<circle cx="896.6" cy="529.6" r="6" fill="#2f6a3c"/>
<circle cx="902.6" cy="507.6" r="6" fill="#2f6a3c"/>
<circle cx="880.6" cy="493.6" r="6" fill="#2f6a3c"/>
<circle cx="889.6" cy="492.6" r="5.5" fill="#2f6a3c"/>
<circle cx="874.6" cy="526.6" r="6" fill="#2f6a3c"/>
<circle cx="875.6" cy="502.8" r="4.2" fill="#3b7b49" opacity="0.5"/>
<circle cx="896.4" cy="507.2" r="4.4" fill="#3b7b49" opacity="0.5"/>
<circle cx="892.4" cy="513.0" r="4.4" fill="#3b7b49" opacity="0.5"/>
<circle cx="875.5" cy="499.3" r="3.2" fill="#3b7b49" opacity="0.5"/>
<circle cx="880.5" cy="512.4" r="3.8" fill="#3b7b49" opacity="0.5"/>
<circle cx="884.4" cy="511.5" r="3.3" fill="#3b7b49" opacity="0.5"/>
<circle cx="881.7" cy="526.9" r="4.1" fill="#3b7b49" opacity="0.5"/>
<circle cx="891.9" cy="523.0" r="3.2" fill="#3b7b49" opacity="0.5"/>
<circle cx="883.0" cy="510.2" r="3.0" fill="#3b7b49" opacity="0.5"/>
<circle cx="887.1" cy="509.0" r="3.3" fill="#3b7b49" opacity="0.5"/>
<circle cx="899.3" cy="510.0" r="3.4" fill="#3b7b49" opacity="0.5"/>
<circle cx="893.5" cy="509.4" r="4.0" fill="#3b7b49" opacity="0.5"/>
<circle cx="889.1" cy="527.0" r="4.0" fill="#3b7b49" opacity="0.5"/>
<circle cx="899.5" cy="508.4" r="3.4" fill="#3b7b49" opacity="0.5"/>
<circle cx="882.8" cy="513.8" r="3.2" fill="#3b7b49" opacity="0.5"/>
<circle cx="889.3" cy="513.6" r="3.9" fill="#3b7b49" opacity="0.5"/>
<circle cx="896.1" cy="511.8" r="3.5" fill="#3b7b49" opacity="0.5"/>
<circle cx="879.5" cy="524.5" r="3.7" fill="#3b7b49" opacity="0.5"/>
<circle cx="881.3" cy="519.1" r="4.1" fill="#3b7b49" opacity="0.5"/>
<circle cx="900.1" cy="517.4" r="3.0" fill="#3b7b49" opacity="0.5"/>
<circle cx="884.6" cy="497.2" r="3.0" fill="#3b7b49" opacity="0.5"/>
<circle cx="886.1" cy="505.5" r="3.9" fill="#3b7b49" opacity="0.5"/>
</g>
<path d="M860,517.3 C842,525 824,529 803,530.2 L803,527.6 C824,526.5 841,523 860,517.3Z" fill="#2f6b1e"/>
<path d="M794.3,531 L806.5,522.5 L805.5,536.2Z" fill="#2f6b1e"/>
<path d="M867.5,537.3 L853.2,550.0 L855.1,551.8Z" fill="#2f6b1e"/>
<path d="M848.0,557.2 L852.5,546.2 L858.9,552.5Z" fill="#2f6b1e"/>
<path d="M840.2,578.5 L830.1,591.7 L832.3,593.1Z" fill="#2f6b1e"/>
<path d="M826.4,599.8 L828.6,588.1 L836.2,593.0Z" fill="#2f6b1e"/>
<rect x="795" y="601" width="50.6" height="25.6" rx="12.8" fill="#e7eefa" stroke="#93a9dc" stroke-width="1.8"/>
<rect x="795" y="630.8" width="50.6" height="25.6" rx="12.8" fill="#e7eefa" stroke="#93a9dc" stroke-width="1.8"/>
<circle cx="860.4" cy="643.9" r="8.7" fill="#a9d1f1" stroke="#2f7fd0" stroke-width="1.2"/>
<path d="M816.6,660.8 L805.2,681.2 L802,679.4 L815.4,660.2Z" fill="#2f6b1e"/>
<path d="M794.5,679.6 L809,687" stroke="#2f6b1e" stroke-width="3.2" fill="none"/>
<path d="M583,678.5 L452,677.2 L452,679.8Z" fill="#2f6b1e"/>
<path d="M441.3,678.5 L457,671.3 L457,685.7Z" fill="#2f6b1e"/>
<path d="M765.3,428.3 C755,417 738,411 716,410.6 L716,409.6 C738,408.5 757,414 765.3,428.3Z" fill="#c0272d"/>
<path d="M706.4,410.2 L718.5,404.3 L718,416Z" fill="#c0272d"/>
<line x1="798" y1="450.5" x2="798" y2="434.9" stroke="#c0272d" stroke-width="1.7"/>
<path d="M798.0,430.7 L801.5,437.7 L798.0,436.3 L794.5,437.7Z" fill="#c0272d"/>
<line x1="779.6" y1="513.2" x2="779.6" y2="527.5" stroke="#c0272d" stroke-width="1.8"/>
<path d="M779.6,532.0 L775.6,524.5 L779.6,526.0 L783.6,524.5Z" fill="#c0272d"/>
<line x1="809.4" y1="686.6" x2="809.4" y2="701.6" stroke="#c0272d" stroke-width="1.7"/>
<path d="M809.4,705.8 L805.5,698.8 L809.4,700.2 L813.3,698.8Z" fill="#c0272d"/>
<line x1="873.3" y1="572.9" x2="873.3" y2="558.8" stroke="#111" stroke-width="2"/>
<path d="M873.3,554.0 L877.6,562.0 L873.3,560.4 L869.0,562.0Z" fill="#111"/>
<line x1="852.3" y1="622.1" x2="852.3" y2="607.8" stroke="#111" stroke-width="2"/>
<path d="M852.3,603.0 L856.6,611.0 L852.3,609.4 L848.0,611.0Z" fill="#111"/>
<text x="50.0" y="172.5" font-size="18.5" fill="#111" font-weight="bold" text-anchor="start" textLength="110.0" lengthAdjust="spacingAndGlyphs">Healthy liver</text>
<text x="242.3" y="281.4" font-size="18.5" fill="#111" font-weight="normal" text-anchor="middle" textLength="95.0" lengthAdjust="spacingAndGlyphs">Neutrophils</text>
<text x="170.8" y="366.0" font-size="18.5" fill="#111" font-weight="normal" text-anchor="middle" textLength="105.0" lengthAdjust="spacingAndGlyphs">Macrophage</text>
<text x="358.0" y="310.0" font-size="18.5" fill="#111" font-weight="normal" text-anchor="middle" textLength="85.0" lengthAdjust="spacingAndGlyphs">Quiescent</text>
<text x="357.5" y="329.4" font-size="18.5" fill="#111" font-weight="normal" text-anchor="middle" textLength="49.0" lengthAdjust="spacingAndGlyphs">HSCs</text>
<text x="632.6" y="174.3" font-size="18.7" fill="#111" font-weight="normal" text-anchor="middle" textLength="109.6" lengthAdjust="spacingAndGlyphs">Inflammatory</text>
<text x="635.7" y="193.6" font-size="18.7" fill="#111" font-weight="normal" text-anchor="middle" textLength="47.5" lengthAdjust="spacingAndGlyphs">factor</text>
<text x="843.4" y="171.4" font-size="18.5" fill="#8a9095" font-weight="bold" text-anchor="start" textLength="113.6" lengthAdjust="spacingAndGlyphs">Liver fibrosis</text>
<text x="872.0" y="237.0" font-size="18" fill="#111" font-weight="normal" text-anchor="start" textLength="72.0" lengthAdjust="spacingAndGlyphs">Collegen</text>
<text x="720.6" y="275.7" font-size="18" fill="#111" font-weight="normal" text-anchor="start" textLength="128.4" lengthAdjust="spacingAndGlyphs">Activated HSCs</text>
<text x="794.4" y="337.3" font-size="18.5" fill="#111" font-weight="normal" text-anchor="middle" textLength="39.5" lengthAdjust="spacingAndGlyphs">OTC</text>
<text x="796.6" y="358.0" font-size="18.5" fill="#111" font-weight="normal" text-anchor="middle" textLength="98.6" lengthAdjust="spacingAndGlyphs">mRNA-LNP</text>
<text x="318.0" y="710.6" font-size="18.5" fill="#111" font-weight="bold" text-anchor="start" textLength="171.5" lengthAdjust="spacingAndGlyphs">Healthy Hepatocyte</text>
<text x="535.5" y="711.6" font-size="18.5" fill="#8a9095" font-weight="bold" text-anchor="start" textLength="188.0" lengthAdjust="spacingAndGlyphs">Damaged Hepatocyte</text>
<text x="205" y="453.3" font-size="12.5" font-weight="bold" fill="#2d3561" textLength="62.2" lengthAdjust="spacingAndGlyphs">NH<tspan font-size="7.5">3</tspan>+HCO<tspan font-size="7.5">3</tspan></text>
<text x="268" y="443.5" font-size="12" font-weight="bold" fill="#2d3561">-</text>
<text x="189.3" y="477.3" font-size="14" fill="#111" font-weight="bold" text-anchor="start" textLength="34.7" lengthAdjust="spacingAndGlyphs">CPS1</text>
<text x="168.3" y="501.0" font-size="13" fill="#2b2b2b" font-weight="normal" text-anchor="start" textLength="127.4" lengthAdjust="spacingAndGlyphs">Carbamoyl phosphate</text>
<text x="265.0" y="522.7" font-size="13.5" fill="#111" font-weight="bold" text-anchor="start" textLength="26.7" lengthAdjust="spacingAndGlyphs">OTC</text>
<text x="270.7" y="551.7" font-size="13" fill="#2b2b2b" font-weight="normal" text-anchor="start" textLength="52.6" lengthAdjust="spacingAndGlyphs">Ornithine</text>
<text x="330.0" y="554.3" font-size="16" fill="#2b2b2b" font-weight="normal" text-anchor="start" textLength="73.3" lengthAdjust="spacingAndGlyphs">Urea cycle</text>
<text x="344.0" y="481.7" font-size="13" fill="#2b2b2b" font-weight="normal" text-anchor="start" textLength="50.3" lengthAdjust="spacingAndGlyphs">Citrulline</text>
<text x="441.7" y="492.3" font-size="14" fill="#111" font-weight="bold" text-anchor="start" textLength="35.6" lengthAdjust="spacingAndGlyphs">ASS1</text>
<text x="413.3" y="546.7" font-size="13" fill="#2b2b2b" font-weight="normal" text-anchor="start" textLength="50.7" lengthAdjust="spacingAndGlyphs">Arginino-</text>
<text x="411.7" y="557.7" font-size="13" fill="#2b2b2b" font-weight="normal" text-anchor="start" textLength="54.0" lengthAdjust="spacingAndGlyphs">succinate</text>
<text x="433.3" y="596.0" font-size="14" fill="#111" font-weight="bold" text-anchor="start" textLength="27.4" lengthAdjust="spacingAndGlyphs">ASL</text>
<text x="342.3" y="614.0" font-size="13" fill="#2b2b2b" font-weight="normal" text-anchor="start" textLength="46.7" lengthAdjust="spacingAndGlyphs">Arginine</text>
<text x="279.0" y="605.0" font-size="14" fill="#111" font-weight="bold" text-anchor="start" textLength="30.3" lengthAdjust="spacingAndGlyphs">ARG</text>
<text x="243.3" y="609.3" font-size="14" fill="#e8821e" font-weight="bold" text-anchor="start" textLength="31.7" lengthAdjust="spacingAndGlyphs">Urea</text>
<text x="604.5" y="484.3" font-size="13" fill="#2b2b2b" font-weight="normal" text-anchor="start" textLength="51.1" lengthAdjust="spacingAndGlyphs">Citrulline</text>
<text x="519.7" y="495.9" font-size="14" fill="#111" font-weight="bold" text-anchor="start" textLength="34.5" lengthAdjust="spacingAndGlyphs">ASS1</text>
<text x="532.7" y="549.0" font-size="13" fill="#2b2b2b" font-weight="normal" text-anchor="start" textLength="50.5" lengthAdjust="spacingAndGlyphs">Arginino-</text>
<text x="530.7" y="561.4" font-size="13" fill="#2b2b2b" font-weight="normal" text-anchor="start" textLength="53.9" lengthAdjust="spacingAndGlyphs">succinate</text>
<text x="593.7" y="557.2" font-size="16" fill="#2b2b2b" font-weight="normal" text-anchor="start" textLength="73.8" lengthAdjust="spacingAndGlyphs">Urea cycle</text>
<text x="673.5" y="553.9" font-size="13" fill="#2b2b2b" font-weight="normal" text-anchor="start" textLength="52.5" lengthAdjust="spacingAndGlyphs">Ornithine</text>
<text x="536.2" y="599.0" font-size="14" fill="#111" font-weight="bold" text-anchor="start" textLength="27.1" lengthAdjust="spacingAndGlyphs">ASL</text>
<text x="519.7" y="630.7" font-size="13" fill="#2b2b2b" font-weight="normal" text-anchor="start" textLength="55.8" lengthAdjust="spacingAndGlyphs">Fumarate</text>
<text x="607.2" y="620.2" font-size="13" fill="#2b2b2b" font-weight="normal" text-anchor="start" textLength="46.4" lengthAdjust="spacingAndGlyphs">Arginine</text>
<text x="687.6" y="607.8" font-size="14" fill="#111" font-weight="bold" text-anchor="start" textLength="30.1" lengthAdjust="spacingAndGlyphs">ARG</text>
<text x="721.3" y="609.7" font-size="14" fill="#c0272d" font-weight="bold" text-anchor="start" textLength="31.8" lengthAdjust="spacingAndGlyphs">Urea</text>
<text x="668.8" y="634.6" font-size="8.5" fill="#2b2b2b">H<tspan font-size="6">2</tspan>0</text>
<text x="705.2" y="448.8" font-size="12.5" font-weight="bold" fill="#2d3561" textLength="31.7" lengthAdjust="spacingAndGlyphs">HCO<tspan font-size="7.5">3</tspan></text>
<text x="738.4" y="438.6" font-size="12" font-weight="bold" fill="#2d3561">-</text>
<text x="745.3" y="449" font-size="13.5" font-weight="bold" fill="#2d3561">+</text>
<text x="754.0" y="449.3" font-size="17.5" fill="#c0272d" font-weight="bold" text-anchor="start" textLength="37.8" lengthAdjust="spacingAndGlyphs">NH3</text>
<text x="764.0" y="477.3" font-size="14" fill="#111" font-weight="bold" text-anchor="start" textLength="34.0" lengthAdjust="spacingAndGlyphs">CPS1</text>
<text x="695.3" y="496.3" font-size="13" fill="#2b2b2b" font-weight="normal" text-anchor="start" textLength="127.5" lengthAdjust="spacingAndGlyphs">Carbamoyl phosphate</text>
<text x="734.6" y="527.9" font-size="17.5" fill="#c0272d" font-weight="bold" text-anchor="start" textLength="36.2" lengthAdjust="spacingAndGlyphs">OTC</text>
<text x="870.2" y="518.5" font-size="13.5" fill="#0a0a0a" font-weight="bold" text-anchor="start" textLength="26.2" lengthAdjust="spacingAndGlyphs">OTC</text>
<text x="814.8" y="570.1" font-size="13.5" fill="#111" font-weight="bold" text-anchor="start" textLength="51.6" lengthAdjust="spacingAndGlyphs">p-AMPK</text>
<text x="820.2" y="617.4" font-size="14" fill="#111" font-weight="bold" text-anchor="middle">Sirt3</text>
<text x="820.4" y="646.8" font-size="14" fill="#111" font-weight="bold" text-anchor="middle">SOD2</text>
<text x="860.4" y="647.0" font-size="9" fill="#1d4f7a" font-weight="normal" text-anchor="middle">Ac</text>
<text x="770.8" y="700.8" font-size="13.5" fill="#c0272d" font-weight="bold" text-anchor="start" textLength="30.4" lengthAdjust="spacingAndGlyphs">ROS</text>
</svg>
</body></html>
